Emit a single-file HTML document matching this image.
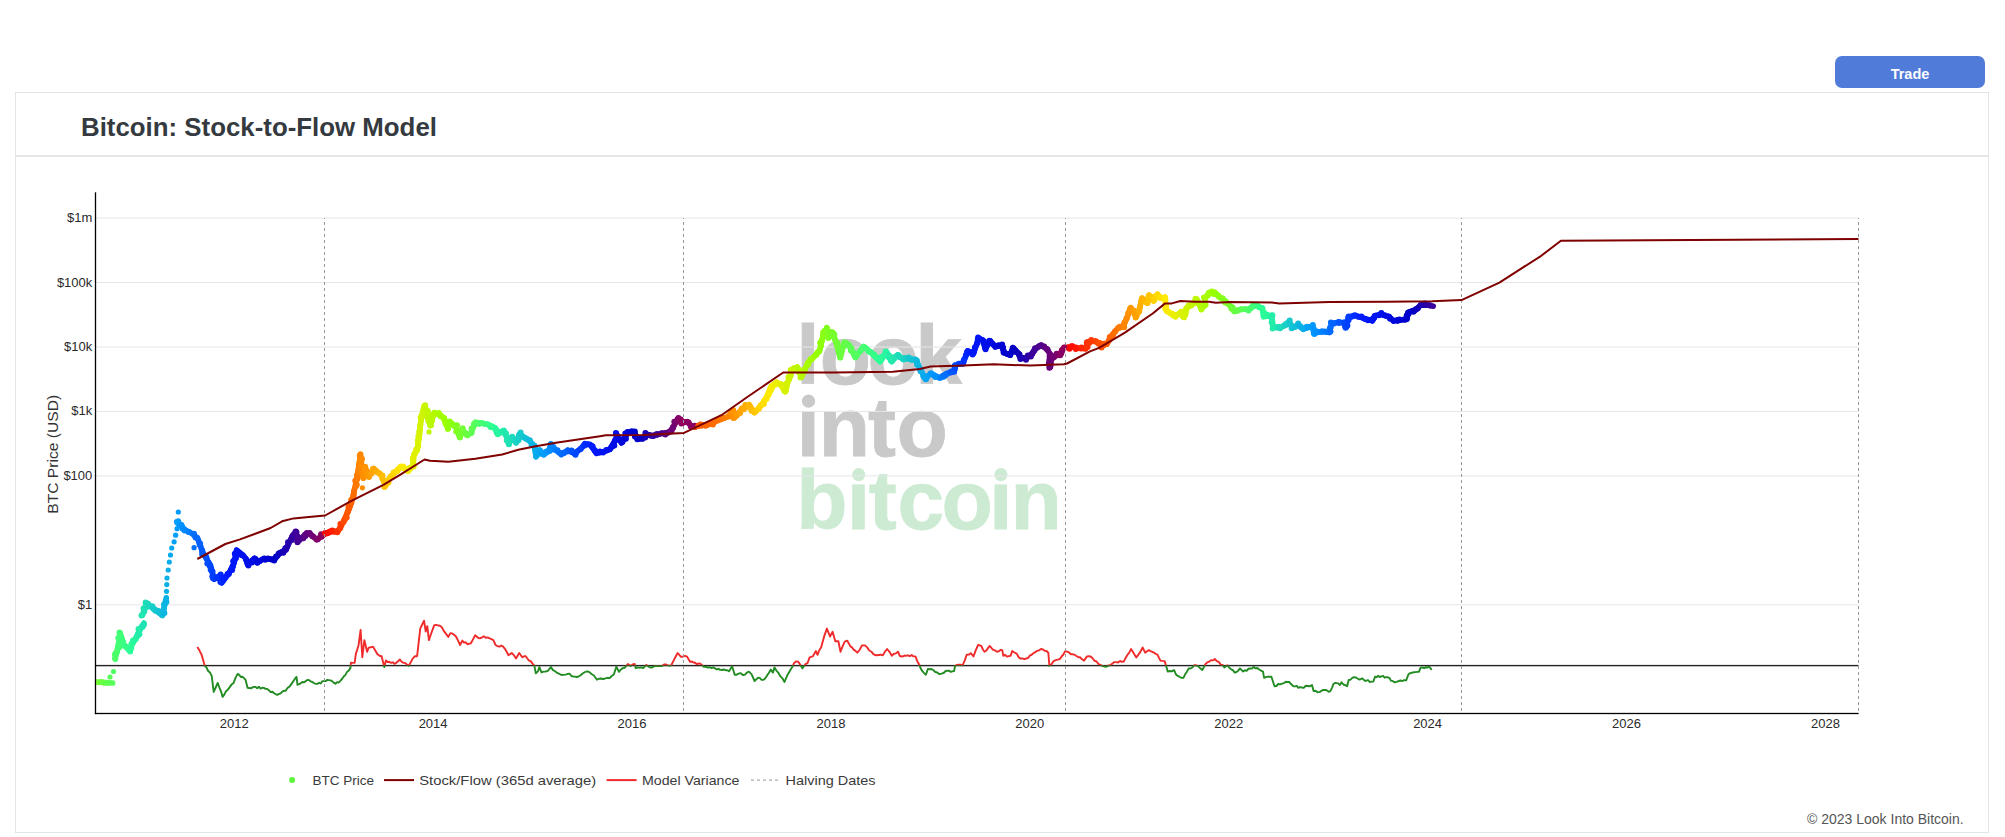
<!DOCTYPE html>
<html><head><meta charset="utf-8"><title>Bitcoin: Stock-to-Flow Model</title>
<style>
html,body{margin:0;padding:0;background:#fff;width:2005px;height:837px;overflow:hidden;}
body{position:relative;font-family:"Liberation Sans",sans-serif;}
.btn{position:absolute;left:1835px;top:56px;width:150px;height:32px;background:#517bd9;border-radius:7px;color:#fff;font-weight:bold;font-size:14.5px;line-height:36px;text-align:center;}
.card{position:absolute;left:15px;top:92px;width:1972px;height:739px;border:1px solid #e2e4e5;}
.hdr{position:absolute;left:0;top:0;width:1972px;height:62px;border-bottom:2px solid #e4e6e7;}
.title{position:absolute;left:64.7px;top:18.5px;font-size:26.5px;font-weight:bold;color:#343a40;white-space:nowrap;transform-origin:0 0;transform:scaleX(0.975);}
.copy{position:absolute;left:1807px;top:811px;font-size:14px;color:#555;white-space:nowrap;}
svg{position:absolute;left:0;top:0;}
</style></head><body>
<div class="btn">Trade</div>
<div class="card"><div class="hdr"><div class="title">Bitcoin: Stock-to-Flow Model</div></div></div>
<svg id="chart" width="2005" height="837" viewBox="0 0 2005 837">
<defs>
<clipPath id="above"><rect x="95" y="180" width="1765" height="485.6"/></clipPath>
<clipPath id="plot"><rect x="96.4" y="180" width="1762" height="532"/></clipPath>
<clipPath id="below"><rect x="95" y="665.6" width="1765" height="60"/></clipPath>
</defs>
<g font-family="Liberation Sans, sans-serif" font-weight="bold" font-size="84.0"><g fill="#c9c9c9" stroke="#c9c9c9" stroke-width="0.8"><text x="796.13" y="383.9">l</text><text x="819.72" y="383.9">o</text><text x="867.42" y="383.9">o</text><text x="915.13" y="383.9">k</text></g><g fill="#c9c9c9" stroke="#c9c9c9" stroke-width="0.8"><text x="796.45" y="455.8">&#x131;</text><text x="818.66" y="455.8">n</text><text x="867.97" y="455.8">t</text><text x="896.42" y="455.8">o</text></g><circle cx="808.5" cy="401.2" r="6.6" fill="#c9c9c9"/><g fill="#cdebd3" stroke="#cdebd3" stroke-width="0.8"><text x="796.36" y="529">b</text><text x="846.85" y="529">&#x131;</text><text x="868.87" y="529">t</text><text x="897.52" y="529">c</text><text x="941.42" y="529">o</text><text x="989.05" y="529">&#x131;</text><text x="1010.46" y="529">n</text></g><circle cx="858.7" cy="474.6" r="6.6" fill="#cdebd3"/><circle cx="1000.9" cy="474.6" r="6.6" fill="#cdebd3"/></g>
<rect x="96" y="217.60" width="1763" height="1" fill="#e6e6e6"/><rect x="96" y="282.05" width="1763" height="1" fill="#e6e6e6"/><rect x="96" y="346.50" width="1763" height="1" fill="#e6e6e6"/><rect x="96" y="410.95" width="1763" height="1" fill="#e6e6e6"/><rect x="96" y="475.40" width="1763" height="1" fill="#e6e6e6"/><rect x="96" y="604.30" width="1763" height="1" fill="#e6e6e6"/>
<rect x="96" y="217.3" width="1763" height="1.6" fill="#ececec" opacity="0"/>
<rect x="95.5" y="664.9" width="1763" height="1.4" fill="#222"/>
<g fill="none" stroke-width="1.9" stroke-linejoin="round">
<path d="M197.3 647 L199.5 650.6 L201.7 655 L204.7 665.5 L206.4 667.4 L208.2 671 L209.9 672.4 L211.7 675.9 L213.7 691.9 L215.7 687.5 L217.7 682.9 L219.3 687.3 L221 691.3 L222.6 696.9 L224.3 694.6 L225.9 691.3 L227.6 689.9 L229.6 687.4 L231.6 684.4 L233.6 682.9 L235.6 677.6 L237.6 673.9 L239.2 674.9 L240.8 677 L242.4 676.7 L244 678.1 L245.6 679.9 L247.6 687.9 L249.2 688 L250.8 688.4 L252.4 687.5 L254 686.9 L255.6 686.9 L257.2 688.2 L258.9 686.7 L260.6 688.6 L262.2 687.8 L263.9 687.9 L265.5 688.9 L267.2 689 L268.9 690.2 L270.6 692.1 L272.4 691.7 L274.1 693.3 L275.8 694.3 L277.5 694.9 L279.1 693.8 L280.7 693.4 L282.3 691.6 L283.9 690.8 L285.5 690.9 L287.5 688 L289.5 686.6 L291.5 683.9 L293.2 681.4 L294.8 678.9 L296.5 676.9 L297.5 684.9 L299.1 684.2 L300.8 683.1 L302.4 682 L304.1 682.2 L305.8 681.1 L307.4 679.9 L309.1 680.1 L310.7 681.4 L312.4 682 L314.1 683.3 L315.7 683.7 L317.4 683.9 L319.1 682.8 L320.7 683.5 L322.4 681.1 L324.1 681.1 L325.7 681.1 L327.4 679.9 L330 680.4 L331.8 680.8 L333.6 682.6 L335.4 683.7 L337 682.2 L338.6 682.6 L340.3 680.9 L342 679 L343.7 676.5 L345.3 675.1 L347 671.9 L348.7 670.6 L350.4 668.1 L351 662.7 L352.9 662.9 L354.7 662.7 L355.8 654.1 L358.5 645.5 L360.6 629.9 L362.3 657.3 L364.4 640.1 L367.1 651.9 L368.7 647.6 L370.9 647.3 L373 646.6 L375.1 650.3 L377.3 654.1 L379.5 655.8 L381.6 656.2 L384.3 667 L385.9 660.5 L387.6 662 L389.3 661.8 L391.1 662.8 L392.8 662.3 L394.5 663.8 L396.3 662.8 L398.1 661.2 L399.9 659.5 L401.6 661.8 L403.3 662.7 L405.1 662.9 L406.8 664.4 L408.5 665.9 L410.6 662.5 L412.8 658.4 L415 656.3 L417.1 656.2 L420.3 628.3 L422.2 624.5 L424.1 620.8 L425.7 631.5 L427.3 626.1 L428.9 640.1 L431.1 633.7 L434.3 625.1 L436.2 625 L438.1 625.4 L439.9 625.8 L441.8 627.2 L443.5 630.4 L445.1 632.6 L448.3 636.9 L450.4 633.1 L452.2 633.4 L454 634.7 L455.8 636.3 L458 640.4 L460.1 645 L462.3 640.6 L464.1 642.6 L465.8 642.3 L467.6 644.4 L469.2 643.7 L470.9 643.3 L473 639.4 L475.2 635.3 L478.4 638 L480.2 638.2 L482 637.5 L483.8 636.3 L485.7 637.8 L487.6 637.4 L489.6 638.4 L491.5 639.1 L493.4 640.1 L495.6 645 L497.5 646.2 L499.4 646.7 L501.2 645.5 L503.1 646.6 L504.9 648.8 L506.7 651.8 L508.5 655.2 L511.7 653 L513.9 655.2 L516 658.4 L517.6 655.7 L519.2 653 L520.9 655.3 L522.5 657.3 L524.1 656.3 L525.7 656.2 L528.9 660.5 L530.7 661.1 L532.5 663.6 L534.3 665.4 L535.8 673.4 L537.9 671.3 L539.4 667.1 L541.5 672.4 L543.6 671.6 L545.7 671.5 L547.8 670.8 L550.9 667.1 L553 670.1 L555.1 671.3 L557.2 672.9 L559.3 673.8 L561.4 675 L563.5 674.9 L565.6 674.6 L567.7 673.9 L569.5 673.7 L571.4 676 L573.2 676.5 L575 676.6 L576.8 677 L578.5 676.5 L580.3 675.5 L582 674.1 L583.8 672.8 L585.5 671.8 L587.6 671.3 L589.7 672.4 L591.8 674.2 L593.9 675.5 L597 679.7 L599.1 678.7 L601.2 678.5 L603.3 679.2 L605.4 678.3 L607.5 677.8 L609.6 678.1 L611.7 676 L613.8 674.5 L616.4 666.6 L619 671.8 L620.9 669.5 L622.9 668.1 L624.8 667.7 L627.9 664 L630.5 666.1 L632.6 664.4 L634.7 664 L635.8 668.2 L637.6 667.4 L639.5 667.9 L641.3 667.3 L643.1 668.2 L646.3 665 L649.4 667.1 L651.2 667.7 L653 667 L654.8 666 L656.6 666 L658.4 666.1 L660.2 666 L662 666.1 L664.1 664.5 L666.2 664.5 L667.9 665.4 L669.7 665.8 L671.4 665 L674.5 658.8 L676.1 655.8 L677.7 653 L680.8 656.7 L682.9 656.7 L685 655.9 L687.1 656.7 L690.2 661.9 L691.9 661.5 L693.5 662.5 L695.2 662.8 L696.8 664.3 L698.5 663.4 L700.1 663.6 L701.8 665 L703.9 666.8 L705.9 666.9 L708 667.7 L709.8 667.2 L711.5 668.1 L713.2 667.3 L715 668.4 L716.8 669.5 L718.5 668.7 L720.2 669.9 L722 670 L723.8 669.5 L725.5 670.2 L727.2 670.2 L729 671.3 L732.1 666.3 L734.7 674.7 L736.6 674.7 L738.6 673.7 L740.5 673.1 L743.1 675.2 L745 674.6 L747 672.5 L748.9 671.6 L751.5 674.2 L754.6 681 L757.8 677.8 L759.7 677.9 L761.6 679.8 L763.5 679.9 L765.3 678.3 L767.1 675.4 L769 672.7 L770.8 669.5 L772.9 672.6 L774.5 667.4 L776.4 670.6 L778.2 672.6 L780.3 676.2 L782.4 678.3 L784.5 682 L787.6 674.7 L789.3 671.9 L791.1 668.8 L792.8 666.3 L793.9 663.2 L796 661.5 L798.1 661.6 L800.7 665.3 L802.3 668.4 L805.4 664.2 L807.5 663.2 L809.6 657.4 L812.7 656.4 L815.9 651.1 L817.5 654.8 L819.3 650.2 L821.1 647.5 L824.3 635.9 L826.9 628.6 L830 636.5 L832.6 631.8 L835.3 641.2 L838.4 641.2 L840.5 651.7 L842.6 646.3 L844.7 641.7 L847.3 640.7 L850.4 646.4 L852 647.3 L853.6 649.6 L855.2 650.6 L857.3 652.7 L859.6 650 L862 645.4 L865.1 645.4 L867.2 647.4 L869.3 650.5 L871.4 651.7 L873.1 653.9 L874.9 655 L876.6 655.3 L878.7 655 L880.8 654.7 L882.9 655.3 L885 651.6 L887.1 649 L889.5 651.8 L891.8 655.8 L893.9 653.8 L896 653.3 L898.1 651.7 L899.7 655.8 L901.4 656.5 L903 656.3 L904.7 655.5 L906.3 655.7 L908 655.3 L909.9 656.2 L911.7 655 L913.5 656.4 L915.4 656.4 L917.5 661.7 L919.6 665.3 L920.6 668.4 L922.4 671.1 L924.1 673.1 L925.9 674.7 L927.9 668.9 L929.7 669.2 L931.4 669 L933.2 670 L935.3 672 L937.3 672.5 L939.4 674.2 L941.5 673.7 L943.6 673 L945.7 671 L947.4 670.8 L949.1 670.8 L950.7 671.9 L952.4 671.4 L954.1 671 L955.1 665.8 L957 665 L958.8 664.8 L960.6 664.7 L962.5 665.3 L964.6 660.9 L966.7 654.8 L968.8 654.6 L970.8 653.2 L973.5 656.4 L975.9 649.9 L978.2 644.8 L981.3 645.9 L982.9 649.5 L984.5 651.7 L986.2 650.7 L988 648.1 L989.7 645.9 L992.8 649.6 L994.9 650.4 L997 651.7 L998.8 651.3 L1000.5 649.9 L1002.3 650.1 L1003.3 655.8 L1005.1 654.8 L1007 656.7 L1008.8 656.1 L1010.6 655.8 L1012.2 651.1 L1014.5 652.5 L1016.9 653.8 L1018.5 657 L1020.1 658.5 L1022.2 658.4 L1024.3 659.2 L1026.4 658.5 L1028.1 657.9 L1029.9 655.5 L1031.6 654.8 L1033.5 653.1 L1035.4 652.1 L1037.2 650.8 L1039.1 650.3 L1041 649 L1042.8 649.4 L1044.7 650.7 L1046.5 651 L1048.3 652.7 L1049.4 665.8 L1051.5 664.3 L1053.6 661.1 L1055.7 660.1 L1057.8 659.6 L1059.9 659 L1061.6 656.5 L1063.4 654.5 L1065.1 651.1 L1067.2 651.7 L1069.3 652.7 L1071 654.2 L1072.8 654.1 L1074.5 654.8 L1076.4 656 L1078.3 657.2 L1080.2 657.3 L1082.1 659.3 L1084 660.6 L1087.1 656.4 L1088.8 656.3 L1090.6 656.5 L1092.3 658 L1094.4 660.7 L1096.5 661.5 L1098.6 664.2 L1100.4 664.8 L1102.3 666 L1104.2 666.3 L1106 666.8 L1108 665.7 L1110.1 665.3 L1112.2 663.7 L1114.3 662.1 L1116.2 662.1 L1118.1 662.5 L1120 661 L1121.9 661.8 L1123.8 661.6 L1125.6 657.9 L1127.4 654.9 L1129.3 652.7 L1131.1 649 L1132.8 651.8 L1134.6 654.7 L1136.3 657.4 L1138.4 654.6 L1140.5 651.6 L1142.6 647.5 L1145.2 652.7 L1147.1 651.3 L1148.9 650.1 L1150.6 651.2 L1152.2 651.8 L1153.9 652.6 L1155.5 653.8 L1157.2 654.3 L1158.8 657.4 L1160.4 660.6 L1162.5 660.9 L1164.6 661.1 L1166.1 665.8 L1167.7 671.6 L1169.8 671 L1171.9 671.4 L1174 670 L1176.1 674.7 L1177.9 675.9 L1179.8 677 L1181.6 677.9 L1183.4 677.8 L1185.2 674.2 L1186.9 671.7 L1188.7 668.4 L1190.5 668.5 L1192.3 667.5 L1194.2 665.3 L1196 665.3 L1198.1 666.1 L1200.2 668.3 L1202.3 670 L1205.4 664.2 L1207.3 662.3 L1209.2 661.6 L1211 660.2 L1212.9 660.4 L1214.8 659 L1216.9 661.1 L1219 662.1 L1220.8 664.7 L1222.5 664.9 L1224.3 667.4 L1227.4 665.3 L1229.2 667.6 L1231.1 669.3 L1232.9 670.1 L1234.7 672.6 L1236.5 672 L1238.2 670.7 L1240 668.4 L1243.1 671.6 L1244.8 670.2 L1246.6 670.9 L1248.3 669 L1250.1 668.4 L1251.8 668.6 L1253.6 666.8 L1255.5 668.4 L1257.4 668 L1259.2 669.5 L1261.1 670.7 L1263 671.6 L1264.1 677.8 L1265.9 677.2 L1267.8 676.7 L1269.6 676.7 L1271.4 676.8 L1274.5 686.2 L1276.4 686 L1278.3 684 L1280.2 684.4 L1282.1 683.6 L1284 683.1 L1285.7 681.8 L1287.5 682 L1289.2 682 L1291.3 684.3 L1293.4 686.2 L1295.1 686.4 L1296.7 685.8 L1298.3 687.8 L1300 687.1 L1301.9 687.5 L1303.8 687.7 L1305.8 685.8 L1307.7 686 L1309.6 686.3 L1312 685.1 L1313.6 691.1 L1315.6 690.8 L1317.6 692.3 L1319.9 691.9 L1322.3 690.3 L1323.9 690 L1325.5 689.9 L1327.1 690.6 L1328.7 691.8 L1330.3 691.1 L1331.9 688.1 L1333.5 683.9 L1335.1 683 L1336.7 683.1 L1338.3 683.4 L1339.9 685.1 L1341.5 682.3 L1343.4 684.5 L1345.2 685.1 L1347.1 686.3 L1348.7 679.9 L1350.5 679.7 L1352.3 677.9 L1354.1 677.2 L1355.9 677.5 L1359.1 679.5 L1360.7 679.3 L1362.3 678.3 L1364.6 680.7 L1366.4 680.7 L1368.1 680.2 L1369.9 682.1 L1371.6 681.6 L1373.4 681.5 L1375 676.7 L1376.6 677.2 L1378.2 675.7 L1379.8 677.1 L1381.4 676.3 L1383 675.8 L1384.6 677.7 L1386.2 677.2 L1387.8 677.3 L1389.4 677.9 L1391 680.7 L1392.9 681.2 L1394.7 682.4 L1396.6 681.9 L1398.5 681.1 L1400.4 680.5 L1402.3 681 L1404.2 680.1 L1406.1 680.3 L1408.5 674.3 L1410.2 673.1 L1412 672.8 L1413.7 672.2 L1415.4 672.1 L1417.2 671.9 L1418.9 671.9 L1420.5 667.9 L1422.3 667.4 L1424.1 668.2 L1425.9 667.2 L1427.7 667.5 L1429.3 666.7 L1431.7 669.9" stroke="#ef2b2b" clip-path="url(#above)"/>
<path d="M197.3 647 L199.5 650.6 L201.7 655 L204.7 665.5 L206.4 667.4 L208.2 671 L209.9 672.4 L211.7 675.9 L213.7 691.9 L215.7 687.5 L217.7 682.9 L219.3 687.3 L221 691.3 L222.6 696.9 L224.3 694.6 L225.9 691.3 L227.6 689.9 L229.6 687.4 L231.6 684.4 L233.6 682.9 L235.6 677.6 L237.6 673.9 L239.2 674.9 L240.8 677 L242.4 676.7 L244 678.1 L245.6 679.9 L247.6 687.9 L249.2 688 L250.8 688.4 L252.4 687.5 L254 686.9 L255.6 686.9 L257.2 688.2 L258.9 686.7 L260.6 688.6 L262.2 687.8 L263.9 687.9 L265.5 688.9 L267.2 689 L268.9 690.2 L270.6 692.1 L272.4 691.7 L274.1 693.3 L275.8 694.3 L277.5 694.9 L279.1 693.8 L280.7 693.4 L282.3 691.6 L283.9 690.8 L285.5 690.9 L287.5 688 L289.5 686.6 L291.5 683.9 L293.2 681.4 L294.8 678.9 L296.5 676.9 L297.5 684.9 L299.1 684.2 L300.8 683.1 L302.4 682 L304.1 682.2 L305.8 681.1 L307.4 679.9 L309.1 680.1 L310.7 681.4 L312.4 682 L314.1 683.3 L315.7 683.7 L317.4 683.9 L319.1 682.8 L320.7 683.5 L322.4 681.1 L324.1 681.1 L325.7 681.1 L327.4 679.9 L330 680.4 L331.8 680.8 L333.6 682.6 L335.4 683.7 L337 682.2 L338.6 682.6 L340.3 680.9 L342 679 L343.7 676.5 L345.3 675.1 L347 671.9 L348.7 670.6 L350.4 668.1 L351 662.7 L352.9 662.9 L354.7 662.7 L355.8 654.1 L358.5 645.5 L360.6 629.9 L362.3 657.3 L364.4 640.1 L367.1 651.9 L368.7 647.6 L370.9 647.3 L373 646.6 L375.1 650.3 L377.3 654.1 L379.5 655.8 L381.6 656.2 L384.3 667 L385.9 660.5 L387.6 662 L389.3 661.8 L391.1 662.8 L392.8 662.3 L394.5 663.8 L396.3 662.8 L398.1 661.2 L399.9 659.5 L401.6 661.8 L403.3 662.7 L405.1 662.9 L406.8 664.4 L408.5 665.9 L410.6 662.5 L412.8 658.4 L415 656.3 L417.1 656.2 L420.3 628.3 L422.2 624.5 L424.1 620.8 L425.7 631.5 L427.3 626.1 L428.9 640.1 L431.1 633.7 L434.3 625.1 L436.2 625 L438.1 625.4 L439.9 625.8 L441.8 627.2 L443.5 630.4 L445.1 632.6 L448.3 636.9 L450.4 633.1 L452.2 633.4 L454 634.7 L455.8 636.3 L458 640.4 L460.1 645 L462.3 640.6 L464.1 642.6 L465.8 642.3 L467.6 644.4 L469.2 643.7 L470.9 643.3 L473 639.4 L475.2 635.3 L478.4 638 L480.2 638.2 L482 637.5 L483.8 636.3 L485.7 637.8 L487.6 637.4 L489.6 638.4 L491.5 639.1 L493.4 640.1 L495.6 645 L497.5 646.2 L499.4 646.7 L501.2 645.5 L503.1 646.6 L504.9 648.8 L506.7 651.8 L508.5 655.2 L511.7 653 L513.9 655.2 L516 658.4 L517.6 655.7 L519.2 653 L520.9 655.3 L522.5 657.3 L524.1 656.3 L525.7 656.2 L528.9 660.5 L530.7 661.1 L532.5 663.6 L534.3 665.4 L535.8 673.4 L537.9 671.3 L539.4 667.1 L541.5 672.4 L543.6 671.6 L545.7 671.5 L547.8 670.8 L550.9 667.1 L553 670.1 L555.1 671.3 L557.2 672.9 L559.3 673.8 L561.4 675 L563.5 674.9 L565.6 674.6 L567.7 673.9 L569.5 673.7 L571.4 676 L573.2 676.5 L575 676.6 L576.8 677 L578.5 676.5 L580.3 675.5 L582 674.1 L583.8 672.8 L585.5 671.8 L587.6 671.3 L589.7 672.4 L591.8 674.2 L593.9 675.5 L597 679.7 L599.1 678.7 L601.2 678.5 L603.3 679.2 L605.4 678.3 L607.5 677.8 L609.6 678.1 L611.7 676 L613.8 674.5 L616.4 666.6 L619 671.8 L620.9 669.5 L622.9 668.1 L624.8 667.7 L627.9 664 L630.5 666.1 L632.6 664.4 L634.7 664 L635.8 668.2 L637.6 667.4 L639.5 667.9 L641.3 667.3 L643.1 668.2 L646.3 665 L649.4 667.1 L651.2 667.7 L653 667 L654.8 666 L656.6 666 L658.4 666.1 L660.2 666 L662 666.1 L664.1 664.5 L666.2 664.5 L667.9 665.4 L669.7 665.8 L671.4 665 L674.5 658.8 L676.1 655.8 L677.7 653 L680.8 656.7 L682.9 656.7 L685 655.9 L687.1 656.7 L690.2 661.9 L691.9 661.5 L693.5 662.5 L695.2 662.8 L696.8 664.3 L698.5 663.4 L700.1 663.6 L701.8 665 L703.9 666.8 L705.9 666.9 L708 667.7 L709.8 667.2 L711.5 668.1 L713.2 667.3 L715 668.4 L716.8 669.5 L718.5 668.7 L720.2 669.9 L722 670 L723.8 669.5 L725.5 670.2 L727.2 670.2 L729 671.3 L732.1 666.3 L734.7 674.7 L736.6 674.7 L738.6 673.7 L740.5 673.1 L743.1 675.2 L745 674.6 L747 672.5 L748.9 671.6 L751.5 674.2 L754.6 681 L757.8 677.8 L759.7 677.9 L761.6 679.8 L763.5 679.9 L765.3 678.3 L767.1 675.4 L769 672.7 L770.8 669.5 L772.9 672.6 L774.5 667.4 L776.4 670.6 L778.2 672.6 L780.3 676.2 L782.4 678.3 L784.5 682 L787.6 674.7 L789.3 671.9 L791.1 668.8 L792.8 666.3 L793.9 663.2 L796 661.5 L798.1 661.6 L800.7 665.3 L802.3 668.4 L805.4 664.2 L807.5 663.2 L809.6 657.4 L812.7 656.4 L815.9 651.1 L817.5 654.8 L819.3 650.2 L821.1 647.5 L824.3 635.9 L826.9 628.6 L830 636.5 L832.6 631.8 L835.3 641.2 L838.4 641.2 L840.5 651.7 L842.6 646.3 L844.7 641.7 L847.3 640.7 L850.4 646.4 L852 647.3 L853.6 649.6 L855.2 650.6 L857.3 652.7 L859.6 650 L862 645.4 L865.1 645.4 L867.2 647.4 L869.3 650.5 L871.4 651.7 L873.1 653.9 L874.9 655 L876.6 655.3 L878.7 655 L880.8 654.7 L882.9 655.3 L885 651.6 L887.1 649 L889.5 651.8 L891.8 655.8 L893.9 653.8 L896 653.3 L898.1 651.7 L899.7 655.8 L901.4 656.5 L903 656.3 L904.7 655.5 L906.3 655.7 L908 655.3 L909.9 656.2 L911.7 655 L913.5 656.4 L915.4 656.4 L917.5 661.7 L919.6 665.3 L920.6 668.4 L922.4 671.1 L924.1 673.1 L925.9 674.7 L927.9 668.9 L929.7 669.2 L931.4 669 L933.2 670 L935.3 672 L937.3 672.5 L939.4 674.2 L941.5 673.7 L943.6 673 L945.7 671 L947.4 670.8 L949.1 670.8 L950.7 671.9 L952.4 671.4 L954.1 671 L955.1 665.8 L957 665 L958.8 664.8 L960.6 664.7 L962.5 665.3 L964.6 660.9 L966.7 654.8 L968.8 654.6 L970.8 653.2 L973.5 656.4 L975.9 649.9 L978.2 644.8 L981.3 645.9 L982.9 649.5 L984.5 651.7 L986.2 650.7 L988 648.1 L989.7 645.9 L992.8 649.6 L994.9 650.4 L997 651.7 L998.8 651.3 L1000.5 649.9 L1002.3 650.1 L1003.3 655.8 L1005.1 654.8 L1007 656.7 L1008.8 656.1 L1010.6 655.8 L1012.2 651.1 L1014.5 652.5 L1016.9 653.8 L1018.5 657 L1020.1 658.5 L1022.2 658.4 L1024.3 659.2 L1026.4 658.5 L1028.1 657.9 L1029.9 655.5 L1031.6 654.8 L1033.5 653.1 L1035.4 652.1 L1037.2 650.8 L1039.1 650.3 L1041 649 L1042.8 649.4 L1044.7 650.7 L1046.5 651 L1048.3 652.7 L1049.4 665.8 L1051.5 664.3 L1053.6 661.1 L1055.7 660.1 L1057.8 659.6 L1059.9 659 L1061.6 656.5 L1063.4 654.5 L1065.1 651.1 L1067.2 651.7 L1069.3 652.7 L1071 654.2 L1072.8 654.1 L1074.5 654.8 L1076.4 656 L1078.3 657.2 L1080.2 657.3 L1082.1 659.3 L1084 660.6 L1087.1 656.4 L1088.8 656.3 L1090.6 656.5 L1092.3 658 L1094.4 660.7 L1096.5 661.5 L1098.6 664.2 L1100.4 664.8 L1102.3 666 L1104.2 666.3 L1106 666.8 L1108 665.7 L1110.1 665.3 L1112.2 663.7 L1114.3 662.1 L1116.2 662.1 L1118.1 662.5 L1120 661 L1121.9 661.8 L1123.8 661.6 L1125.6 657.9 L1127.4 654.9 L1129.3 652.7 L1131.1 649 L1132.8 651.8 L1134.6 654.7 L1136.3 657.4 L1138.4 654.6 L1140.5 651.6 L1142.6 647.5 L1145.2 652.7 L1147.1 651.3 L1148.9 650.1 L1150.6 651.2 L1152.2 651.8 L1153.9 652.6 L1155.5 653.8 L1157.2 654.3 L1158.8 657.4 L1160.4 660.6 L1162.5 660.9 L1164.6 661.1 L1166.1 665.8 L1167.7 671.6 L1169.8 671 L1171.9 671.4 L1174 670 L1176.1 674.7 L1177.9 675.9 L1179.8 677 L1181.6 677.9 L1183.4 677.8 L1185.2 674.2 L1186.9 671.7 L1188.7 668.4 L1190.5 668.5 L1192.3 667.5 L1194.2 665.3 L1196 665.3 L1198.1 666.1 L1200.2 668.3 L1202.3 670 L1205.4 664.2 L1207.3 662.3 L1209.2 661.6 L1211 660.2 L1212.9 660.4 L1214.8 659 L1216.9 661.1 L1219 662.1 L1220.8 664.7 L1222.5 664.9 L1224.3 667.4 L1227.4 665.3 L1229.2 667.6 L1231.1 669.3 L1232.9 670.1 L1234.7 672.6 L1236.5 672 L1238.2 670.7 L1240 668.4 L1243.1 671.6 L1244.8 670.2 L1246.6 670.9 L1248.3 669 L1250.1 668.4 L1251.8 668.6 L1253.6 666.8 L1255.5 668.4 L1257.4 668 L1259.2 669.5 L1261.1 670.7 L1263 671.6 L1264.1 677.8 L1265.9 677.2 L1267.8 676.7 L1269.6 676.7 L1271.4 676.8 L1274.5 686.2 L1276.4 686 L1278.3 684 L1280.2 684.4 L1282.1 683.6 L1284 683.1 L1285.7 681.8 L1287.5 682 L1289.2 682 L1291.3 684.3 L1293.4 686.2 L1295.1 686.4 L1296.7 685.8 L1298.3 687.8 L1300 687.1 L1301.9 687.5 L1303.8 687.7 L1305.8 685.8 L1307.7 686 L1309.6 686.3 L1312 685.1 L1313.6 691.1 L1315.6 690.8 L1317.6 692.3 L1319.9 691.9 L1322.3 690.3 L1323.9 690 L1325.5 689.9 L1327.1 690.6 L1328.7 691.8 L1330.3 691.1 L1331.9 688.1 L1333.5 683.9 L1335.1 683 L1336.7 683.1 L1338.3 683.4 L1339.9 685.1 L1341.5 682.3 L1343.4 684.5 L1345.2 685.1 L1347.1 686.3 L1348.7 679.9 L1350.5 679.7 L1352.3 677.9 L1354.1 677.2 L1355.9 677.5 L1359.1 679.5 L1360.7 679.3 L1362.3 678.3 L1364.6 680.7 L1366.4 680.7 L1368.1 680.2 L1369.9 682.1 L1371.6 681.6 L1373.4 681.5 L1375 676.7 L1376.6 677.2 L1378.2 675.7 L1379.8 677.1 L1381.4 676.3 L1383 675.8 L1384.6 677.7 L1386.2 677.2 L1387.8 677.3 L1389.4 677.9 L1391 680.7 L1392.9 681.2 L1394.7 682.4 L1396.6 681.9 L1398.5 681.1 L1400.4 680.5 L1402.3 681 L1404.2 680.1 L1406.1 680.3 L1408.5 674.3 L1410.2 673.1 L1412 672.8 L1413.7 672.2 L1415.4 672.1 L1417.2 671.9 L1418.9 671.9 L1420.5 667.9 L1422.3 667.4 L1424.1 668.2 L1425.9 667.2 L1427.7 667.5 L1429.3 666.7 L1431.7 669.9" stroke="#228b22" clip-path="url(#below)"/>
</g>
<g stroke-width="5.6" stroke-linecap="round" clip-path="url(#plot)">
<line x1="96.3" y1="682" x2="100.2" y2="682.2" stroke="#72ff33"/><line x1="100.2" y1="682.2" x2="104" y2="682.5" stroke="#6aff3f"/><line x1="104" y1="682.5" x2="108.3" y2="682.8" stroke="#61ff4c"/><line x1="108.3" y1="682.8" x2="112.6" y2="683" stroke="#57ff59"/><line x1="115" y1="658" x2="116" y2="655" stroke="#4cff69"/><line x1="116" y1="655" x2="117" y2="652" stroke="#4aff6c"/><line x1="117" y1="652" x2="117.5" y2="648.9" stroke="#48ff6e"/><line x1="117.5" y1="648.9" x2="118.1" y2="645.8" stroke="#47ff70"/><line x1="118.1" y1="645.8" x2="118.7" y2="642.7" stroke="#46ff72"/><line x1="118.7" y1="642.7" x2="119.2" y2="639.6" stroke="#45ff73"/><line x1="119.2" y1="639.6" x2="119.8" y2="636.5" stroke="#43ff75"/><line x1="119.8" y1="636.5" x2="120.3" y2="633.4" stroke="#42ff77"/><line x1="120.3" y1="633.4" x2="121.2" y2="636.3" stroke="#41ff79"/><line x1="121.2" y1="636.3" x2="122.2" y2="639.2" stroke="#3fff7c"/><line x1="122.2" y1="639.2" x2="123.1" y2="642.1" stroke="#3dff7f"/><line x1="123.1" y1="642.1" x2="124" y2="645" stroke="#3bff82"/><line x1="124" y1="645" x2="126.5" y2="647.5" stroke="#37ff87"/><line x1="126.5" y1="647.5" x2="128.9" y2="650" stroke="#31ff8e"/><line x1="128.9" y1="650" x2="130.4" y2="647.3" stroke="#2dff95"/><line x1="130.4" y1="647.3" x2="132" y2="644.6" stroke="#2bfd98"/><line x1="132" y1="644.6" x2="133.6" y2="642" stroke="#2af99c"/><line x1="133.6" y1="642" x2="135.1" y2="639.3" stroke="#28f69f"/><line x1="135.1" y1="639.3" x2="136.7" y2="636.2" stroke="#27f3a2"/><line x1="136.7" y1="636.2" x2="138.2" y2="633.1" stroke="#25efa6"/><line x1="138.2" y1="633.1" x2="139.8" y2="630.1" stroke="#24eca9"/><line x1="139.8" y1="630.1" x2="141.4" y2="627" stroke="#22e9ad"/><line x1="141.4" y1="627" x2="144" y2="623" stroke="#21e4b1"/><line x1="142.6" y1="615" x2="143.6" y2="612" stroke="#20e3b2"/><line x1="143.6" y1="612" x2="144.6" y2="609.1" stroke="#1fe1b4"/><line x1="144.6" y1="609.1" x2="145.6" y2="606.2" stroke="#1edfb6"/><line x1="145.6" y1="606.2" x2="146.6" y2="603.2" stroke="#1eddb9"/><line x1="146.6" y1="603.2" x2="149.1" y2="605.2" stroke="#1cd9bc"/><line x1="149.1" y1="605.2" x2="151.5" y2="607.2" stroke="#1ad4c2"/><line x1="151.5" y1="607.2" x2="154" y2="609.2" stroke="#17cfc7"/><line x1="154" y1="609.2" x2="158.4" y2="611" stroke="#14c8ce"/><line x1="158.4" y1="611" x2="162.4" y2="615.4" stroke="#11bfd7"/><line x1="162.4" y1="615.4" x2="163.2" y2="611.9" stroke="#0ebadd"/><line x1="163.2" y1="611.9" x2="164" y2="608.4" stroke="#0eb8de"/><line x1="164" y1="608.4" x2="164.7" y2="604.9" stroke="#0db6e0"/><line x1="164.7" y1="604.9" x2="165.5" y2="601.4" stroke="#0cb5e2"/><line x1="165.5" y1="601.4" x2="166.3" y2="597.9" stroke="#0cb3e3"/><line x1="178.3" y1="521" x2="179" y2="523.9" stroke="#0098ff"/><line x1="179" y1="523.9" x2="182.2" y2="527" stroke="#0093ff"/><line x1="182.2" y1="527" x2="185.3" y2="530.1" stroke="#008bff"/><line x1="185.3" y1="530.1" x2="189.1" y2="532" stroke="#0082ff"/><line x1="189.1" y1="532" x2="192.8" y2="533.9" stroke="#0078ff"/><line x1="192.8" y1="533.9" x2="195.3" y2="536.4" stroke="#0070ff"/><line x1="195.3" y1="536.4" x2="197.8" y2="538.9" stroke="#0069ff"/><line x1="197.8" y1="538.9" x2="199.1" y2="542.4" stroke="#0064ff"/><line x1="199.1" y1="542.4" x2="200.4" y2="545.8" stroke="#0061ff"/><line x1="200.4" y1="545.8" x2="201.6" y2="549.2" stroke="#005eff"/><line x1="201.6" y1="549.2" x2="202.9" y2="552.7" stroke="#005aff"/><line x1="202.9" y1="552.7" x2="204.8" y2="555.9" stroke="#0056ff"/><line x1="204.8" y1="555.9" x2="206.7" y2="559" stroke="#0051ff"/><line x1="206.7" y1="559" x2="208.5" y2="562.1" stroke="#004cff"/><line x1="208.5" y1="562.1" x2="210.4" y2="565.3" stroke="#0048ff"/><line x1="210.4" y1="565.3" x2="211.3" y2="568.8" stroke="#0044ff"/><line x1="211.3" y1="568.8" x2="212.2" y2="572.2" stroke="#0041ff"/><line x1="212.2" y1="572.2" x2="213.2" y2="575.6" stroke="#003fff"/><line x1="213.2" y1="575.6" x2="214.1" y2="579.1" stroke="#003dff"/><line x1="214.1" y1="579.1" x2="217.2" y2="577.2" stroke="#0037ff"/><line x1="217.2" y1="577.2" x2="220.4" y2="575.3" stroke="#002fff"/><line x1="220.4" y1="575.3" x2="221.1" y2="579" stroke="#002aff"/><line x1="221.1" y1="579" x2="221.7" y2="582.8" stroke="#0028ff"/><line x1="221.7" y1="582.8" x2="223.6" y2="580.3" stroke="#0025ff"/><line x1="223.6" y1="580.3" x2="225.4" y2="577.8" stroke="#0020ff"/><line x1="225.4" y1="577.8" x2="227.3" y2="575.3" stroke="#001bff"/><line x1="227.3" y1="575.3" x2="229.2" y2="572.8" stroke="#0018fe"/><line x1="229.2" y1="572.8" x2="230.9" y2="569.5" stroke="#0018fc"/><line x1="230.9" y1="569.5" x2="232.5" y2="566.1" stroke="#0017fa"/><line x1="232.5" y1="566.1" x2="234.2" y2="562.8" stroke="#0016f8"/><line x1="234.2" y1="562.8" x2="234.8" y2="559.6" stroke="#0015f7"/><line x1="234.8" y1="559.6" x2="235.4" y2="556.5" stroke="#0015f6"/><line x1="235.4" y1="556.5" x2="236.1" y2="553.4" stroke="#0015f5"/><line x1="236.1" y1="553.4" x2="236.7" y2="550.2" stroke="#0014f5"/><line x1="236.7" y1="550.2" x2="239.8" y2="552.7" stroke="#0013f3"/><line x1="239.8" y1="552.7" x2="243" y2="555.2" stroke="#0012ef"/><line x1="243" y1="555.2" x2="245.7" y2="558.5" stroke="#0010ec"/><line x1="245.7" y1="558.5" x2="246.6" y2="561.4" stroke="#000fea"/><line x1="246.6" y1="561.4" x2="247.6" y2="564.3" stroke="#000fe9"/><line x1="247.6" y1="564.3" x2="250.9" y2="561.4" stroke="#000ee6"/><line x1="250.9" y1="561.4" x2="254.3" y2="558.5" stroke="#000ce2"/><line x1="254.3" y1="558.5" x2="257.2" y2="562.4" stroke="#000adf"/><line x1="257.2" y1="562.4" x2="260.5" y2="560.5" stroke="#0009db"/><line x1="260.5" y1="560.5" x2="263.9" y2="558.5" stroke="#0007d7"/><line x1="263.9" y1="558.5" x2="267.4" y2="558.8" stroke="#0005d4"/><line x1="267.4" y1="558.8" x2="270.9" y2="559.2" stroke="#0003d0"/><line x1="270.9" y1="559.2" x2="274.4" y2="559.5" stroke="#0002cc"/><line x1="274.4" y1="559.5" x2="277.3" y2="556.1" stroke="#0000c8"/><line x1="277.3" y1="556.1" x2="280.2" y2="552.8" stroke="#0900c1"/><line x1="280.2" y1="552.8" x2="283" y2="551.3" stroke="#1200bb"/><line x1="283" y1="551.3" x2="285.9" y2="549.9" stroke="#1b00b4"/><line x1="285.9" y1="549.9" x2="287.4" y2="546.6" stroke="#2100b0"/><line x1="287.4" y1="546.6" x2="288.8" y2="543.3" stroke="#2600ac"/><line x1="288.8" y1="543.3" x2="290.7" y2="539.5" stroke="#2b00a8"/><line x1="290.7" y1="539.5" x2="292.6" y2="535.6" stroke="#3100a4"/><line x1="292.6" y1="535.6" x2="296.4" y2="531.8" stroke="#3a009e"/><line x1="296.4" y1="531.8" x2="296.7" y2="535.3" stroke="#400099"/><line x1="296.7" y1="535.3" x2="297.1" y2="538.8" stroke="#410098"/><line x1="297.1" y1="538.8" x2="297.4" y2="542.3" stroke="#420098"/><line x1="297.4" y1="542.3" x2="299.9" y2="539.7" stroke="#470094"/><line x1="299.9" y1="539.7" x2="302.5" y2="537.2" stroke="#4e008f"/><line x1="302.5" y1="537.2" x2="305" y2="534.6" stroke="#560089"/><line x1="305" y1="534.6" x2="309.8" y2="533.7" stroke="#610081"/><line x1="309.8" y1="533.7" x2="313.1" y2="536.5" stroke="#6e0077"/><line x1="313.1" y1="536.5" x2="316.5" y2="539.4" stroke="#780070"/><line x1="316.5" y1="539.4" x2="320.3" y2="537" stroke="#830068"/><line x1="320.3" y1="537" x2="324.1" y2="534.6" stroke="#8f005f"/><line x1="324.1" y1="534.6" x2="327" y2="533" stroke="#ff0400"/><line x1="327" y1="533" x2="329.9" y2="531.4" stroke="#ff0f00"/><line x1="329.9" y1="531.4" x2="333.7" y2="531.8" stroke="#ff1b00"/><line x1="333.7" y1="531.8" x2="337.5" y2="532.2" stroke="#ff2a00"/><line x1="337.5" y1="532.2" x2="339.4" y2="528.9" stroke="#ff3400"/><line x1="339.4" y1="528.9" x2="341.3" y2="525.5" stroke="#ff3b00"/><line x1="341.3" y1="525.5" x2="343.2" y2="522.2" stroke="#ff4200"/><line x1="343.2" y1="522.2" x2="344.5" y2="519.1" stroke="#ff4800"/><line x1="344.5" y1="519.1" x2="345.9" y2="516.1" stroke="#ff4d00"/><line x1="345.9" y1="516.1" x2="347.2" y2="513" stroke="#ff5200"/><line x1="347.2" y1="513" x2="348.6" y2="510" stroke="#ff5700"/><line x1="348.6" y1="510" x2="349.9" y2="506.9" stroke="#ff5c00"/><line x1="349.9" y1="506.9" x2="350.9" y2="503.7" stroke="#ff6000"/><line x1="350.9" y1="503.7" x2="351.8" y2="500.6" stroke="#ff6400"/><line x1="351.8" y1="500.6" x2="352.8" y2="497.4" stroke="#ff6700"/><line x1="352.8" y1="497.4" x2="353.5" y2="494" stroke="#ff6b00"/><line x1="353.5" y1="494" x2="354.2" y2="490.7" stroke="#ff6d00"/><line x1="354.2" y1="490.7" x2="355" y2="487.4" stroke="#ff7000"/><line x1="355" y1="487.4" x2="355.7" y2="484" stroke="#ff7300"/><line x1="355.7" y1="484" x2="356.3" y2="480.9" stroke="#ff7600"/><line x1="356.3" y1="480.9" x2="356.8" y2="477.9" stroke="#ff7800"/><line x1="356.8" y1="477.9" x2="357.4" y2="474.8" stroke="#ff7a00"/><line x1="357.4" y1="474.8" x2="357.9" y2="471.8" stroke="#ff7d00"/><line x1="357.9" y1="471.8" x2="358.5" y2="468.7" stroke="#ff7f00"/><line x1="358.5" y1="468.7" x2="359" y2="465.1" stroke="#ff8100"/><line x1="359" y1="465.1" x2="359.5" y2="461.5" stroke="#ff8300"/><line x1="359.5" y1="461.5" x2="360" y2="457.9" stroke="#ff8500"/><line x1="360" y1="457.9" x2="360.5" y2="454.3" stroke="#ff8700"/><line x1="360.5" y1="454.3" x2="360.8" y2="457.4" stroke="#ff8800"/><line x1="360.8" y1="457.4" x2="361.1" y2="460.6" stroke="#ff8900"/><line x1="361.1" y1="460.6" x2="361.4" y2="463.7" stroke="#ff8a00"/><line x1="361.4" y1="463.7" x2="361.7" y2="466.9" stroke="#ff8a00"/><line x1="361.7" y1="466.9" x2="362" y2="470" stroke="#ff8b00"/><line x1="362" y1="470" x2="362.6" y2="474.1" stroke="#ff8c00"/><line x1="362.6" y1="474.1" x2="363.3" y2="478.2" stroke="#ff8e00"/><line x1="363.3" y1="478.2" x2="363.9" y2="474.4" stroke="#ff8f00"/><line x1="363.9" y1="474.4" x2="364.6" y2="470.6" stroke="#ff9100"/><line x1="364.6" y1="470.6" x2="365.2" y2="466.8" stroke="#ff9200"/><line x1="365.2" y1="466.8" x2="366.2" y2="470" stroke="#ff9400"/><line x1="366.2" y1="470" x2="367.1" y2="473.1" stroke="#ff9700"/><line x1="367.1" y1="473.1" x2="368.1" y2="476.3" stroke="#ff9900"/><line x1="368.1" y1="476.3" x2="370" y2="473.8" stroke="#ff9c00"/><line x1="370" y1="473.8" x2="371.9" y2="471.2" stroke="#ffa100"/><line x1="371.9" y1="471.2" x2="373.8" y2="468.7" stroke="#ffa500"/><line x1="373.8" y1="468.7" x2="376.4" y2="470.9" stroke="#ffaa00"/><line x1="376.4" y1="470.9" x2="378.9" y2="473.2" stroke="#ffb100"/><line x1="378.9" y1="473.2" x2="381.5" y2="475.4" stroke="#ffb700"/><line x1="381.5" y1="475.4" x2="382.8" y2="478.9" stroke="#ffbb00"/><line x1="382.8" y1="478.9" x2="384" y2="482.4" stroke="#ffbe00"/><line x1="384" y1="482.4" x2="385.3" y2="485.9" stroke="#ffc100"/><line x1="385.3" y1="485.9" x2="387.2" y2="482.7" stroke="#ffc500"/><line x1="387.2" y1="482.7" x2="389.1" y2="479.5" stroke="#ffc900"/><line x1="389.1" y1="479.5" x2="391" y2="476.3" stroke="#ffce00"/><line x1="391" y1="476.3" x2="393.4" y2="473.9" stroke="#ffd300"/><line x1="393.4" y1="473.9" x2="395.8" y2="471.6" stroke="#ffd900"/><line x1="395.8" y1="471.6" x2="398.2" y2="469.2" stroke="#ffde00"/><line x1="398.2" y1="469.2" x2="400.6" y2="466.8" stroke="#ffe400"/><line x1="400.6" y1="466.8" x2="404.6" y2="468.7" stroke="#fdea00"/><line x1="404.6" y1="468.7" x2="408.6" y2="470.6" stroke="#f4ec00"/><line x1="408.6" y1="470.6" x2="410.8" y2="468" stroke="#ecee00"/><line x1="410.8" y1="468" x2="412.9" y2="465.3" stroke="#e7ef00"/><line x1="412.9" y1="465.3" x2="413.3" y2="461.7" stroke="#e5ef00"/><line x1="413.3" y1="461.7" x2="413.6" y2="458.1" stroke="#e4f000"/><line x1="413.6" y1="458.1" x2="414" y2="454.5" stroke="#e3f000"/><line x1="414" y1="454.5" x2="417.2" y2="450.2" stroke="#dff100"/><line x1="417.2" y1="450.2" x2="417.8" y2="446.7" stroke="#daf100"/><line x1="417.8" y1="446.7" x2="418.3" y2="443.2" stroke="#d9f200"/><line x1="418.3" y1="443.2" x2="418.8" y2="439.7" stroke="#d8f200"/><line x1="418.8" y1="439.7" x2="419.4" y2="436.2" stroke="#d7f200"/><line x1="419.4" y1="436.2" x2="419.7" y2="432.6" stroke="#d6f200"/><line x1="419.7" y1="432.6" x2="420.1" y2="429.1" stroke="#d5f300"/><line x1="420.1" y1="429.1" x2="420.4" y2="425.5" stroke="#d4f300"/><line x1="420.4" y1="425.5" x2="420.9" y2="421.2" stroke="#d3f300"/><line x1="420.9" y1="421.2" x2="421.5" y2="416.9" stroke="#d2f300"/><line x1="421.5" y1="416.9" x2="422.4" y2="413.3" stroke="#d0f300"/><line x1="422.4" y1="413.3" x2="423.3" y2="409.7" stroke="#cef400"/><line x1="423.3" y1="409.7" x2="424.2" y2="406.1" stroke="#ccf400"/><line x1="424.2" y1="406.1" x2="425.5" y2="408.8" stroke="#c9f500"/><line x1="425.5" y1="408.8" x2="426.9" y2="411.5" stroke="#c6f500"/><line x1="426.9" y1="411.5" x2="427.9" y2="415.8" stroke="#c3f600"/><line x1="427.9" y1="415.8" x2="429" y2="420.1" stroke="#c1f700"/><line x1="429" y1="420.1" x2="430.1" y2="425.5" stroke="#bef700"/><line x1="430.1" y1="425.5" x2="431.2" y2="422.3" stroke="#bcf800"/><line x1="431.2" y1="422.3" x2="432.2" y2="419.1" stroke="#b9f800"/><line x1="432.2" y1="419.1" x2="433.3" y2="415.8" stroke="#b7f900"/><line x1="433.3" y1="415.8" x2="434.4" y2="412.6" stroke="#b4f900"/><line x1="434.4" y1="412.6" x2="437.6" y2="414.2" stroke="#affa00"/><line x1="437.6" y1="414.2" x2="440.9" y2="415.8" stroke="#a8fc00"/><line x1="440.9" y1="415.8" x2="444.1" y2="418" stroke="#a0fd00"/><line x1="444.1" y1="418" x2="445.3" y2="421.6" stroke="#9bfe00"/><line x1="445.3" y1="421.6" x2="446.6" y2="425.1" stroke="#98ff00"/><line x1="446.6" y1="425.1" x2="447.8" y2="428.7" stroke="#96ff02"/><line x1="447.8" y1="428.7" x2="449.1" y2="425.5" stroke="#93ff06"/><line x1="449.1" y1="425.5" x2="450.5" y2="422.3" stroke="#90ff0a"/><line x1="450.5" y1="422.3" x2="453.2" y2="424.5" stroke="#8bff11"/><line x1="453.2" y1="424.5" x2="455.9" y2="426.6" stroke="#85ff1a"/><line x1="455.9" y1="426.6" x2="457.3" y2="430.2" stroke="#80ff20"/><line x1="457.3" y1="430.2" x2="458.8" y2="433.7" stroke="#7dff25"/><line x1="458.8" y1="433.7" x2="460.2" y2="437.3" stroke="#79ff29"/><line x1="460.2" y1="437.3" x2="461.3" y2="433.6" stroke="#76ff2e"/><line x1="461.3" y1="433.6" x2="462.4" y2="429.8" stroke="#74ff31"/><line x1="462.4" y1="429.8" x2="465" y2="432.5" stroke="#70ff37"/><line x1="465" y1="432.5" x2="467.7" y2="435.2" stroke="#6aff40"/><line x1="467.7" y1="435.2" x2="471" y2="433" stroke="#63ff49"/><line x1="471" y1="433" x2="472.4" y2="429.4" stroke="#5dff51"/><line x1="472.4" y1="429.4" x2="473.9" y2="425.9" stroke="#5aff55"/><line x1="473.9" y1="425.9" x2="475.3" y2="422.3" stroke="#57ff5a"/><line x1="475.3" y1="422.3" x2="478.5" y2="422.8" stroke="#52ff61"/><line x1="478.5" y1="422.8" x2="481.7" y2="423.3" stroke="#4aff6c"/><line x1="481.7" y1="423.3" x2="484.9" y2="423.9" stroke="#43ff76"/><line x1="484.9" y1="423.9" x2="488.2" y2="424.4" stroke="#3bff80"/><line x1="488.2" y1="424.4" x2="491.4" y2="426" stroke="#34ff8b"/><line x1="491.4" y1="426" x2="494.6" y2="427.6" stroke="#2dff95"/><line x1="494.6" y1="427.6" x2="496.8" y2="433" stroke="#2afa9b"/><line x1="496.8" y1="433" x2="500" y2="431.9" stroke="#28f5a0"/><line x1="500" y1="431.9" x2="503.2" y2="430.9" stroke="#25efa6"/><line x1="503.2" y1="430.9" x2="505.4" y2="434.6" stroke="#23eaab"/><line x1="505.4" y1="434.6" x2="507.5" y2="438.4" stroke="#21e6b0"/><line x1="507.5" y1="438.4" x2="508.6" y2="443.8" stroke="#20e3b3"/><line x1="508.6" y1="443.8" x2="510.2" y2="440.6" stroke="#1fe0b5"/><line x1="510.2" y1="440.6" x2="511.8" y2="437.3" stroke="#1eddb9"/><line x1="511.8" y1="437.3" x2="514" y2="440" stroke="#1cdabc"/><line x1="514" y1="440" x2="516.1" y2="442.7" stroke="#1ad5c0"/><line x1="516.1" y1="442.7" x2="517.2" y2="439.8" stroke="#19d2c4"/><line x1="517.2" y1="439.8" x2="518.3" y2="437" stroke="#18d0c6"/><line x1="518.3" y1="437" x2="519.4" y2="434.1" stroke="#17cec8"/><line x1="519.4" y1="434.1" x2="522.6" y2="436.2" stroke="#15cacc"/><line x1="522.6" y1="436.2" x2="525.8" y2="438.4" stroke="#13c4d2"/><line x1="525.8" y1="438.4" x2="530.1" y2="441.6" stroke="#10bdda"/><line x1="530.1" y1="441.6" x2="532.2" y2="443.8" stroke="#0db7e0"/><line x1="532.2" y1="443.8" x2="534.4" y2="445.9" stroke="#0bb2e4"/><line x1="534.4" y1="445.9" x2="534.9" y2="449.5" stroke="#0ab0e7"/><line x1="534.9" y1="449.5" x2="535.5" y2="453.1" stroke="#0aafe8"/><line x1="535.5" y1="453.1" x2="536" y2="456.7" stroke="#09aee9"/><line x1="536" y1="456.7" x2="537.9" y2="453.4" stroke="#08abeb"/><line x1="537.9" y1="453.4" x2="539.8" y2="450.2" stroke="#06a7ef"/><line x1="539.8" y1="450.2" x2="542" y2="452.4" stroke="#05a3f4"/><line x1="542" y1="452.4" x2="544.1" y2="454.5" stroke="#039ef9"/><line x1="544.1" y1="454.5" x2="548.4" y2="451.3" stroke="#0097ff"/><line x1="548.4" y1="451.3" x2="549.8" y2="448.1" stroke="#008fff"/><line x1="549.8" y1="448.1" x2="551.1" y2="444.8" stroke="#008cff"/><line x1="551.1" y1="444.8" x2="554.8" y2="449.1" stroke="#0085ff"/><line x1="554.8" y1="449.1" x2="558" y2="451.8" stroke="#007bff"/><line x1="558" y1="451.8" x2="561.3" y2="454.5" stroke="#0073ff"/><line x1="561.3" y1="454.5" x2="564.5" y2="452.4" stroke="#006aff"/><line x1="564.5" y1="452.4" x2="567.7" y2="450.2" stroke="#0061ff"/><line x1="567.7" y1="450.2" x2="571" y2="451.8" stroke="#0058ff"/><line x1="571" y1="451.8" x2="574.2" y2="453.4" stroke="#0050ff"/><line x1="574.2" y1="453.4" x2="577.4" y2="451.2" stroke="#0047ff"/><line x1="577.4" y1="451.2" x2="580.6" y2="449.1" stroke="#003eff"/><line x1="580.6" y1="449.1" x2="582.8" y2="446.5" stroke="#0037ff"/><line x1="582.8" y1="446.5" x2="584.9" y2="443.8" stroke="#0031ff"/><line x1="584.9" y1="443.8" x2="590.3" y2="444.8" stroke="#0027ff"/><line x1="590.3" y1="444.8" x2="592.4" y2="447.6" stroke="#001dff"/><line x1="592.4" y1="447.6" x2="594.5" y2="450.5" stroke="#0019fe"/><line x1="594.5" y1="450.5" x2="596.6" y2="453.3" stroke="#0018fc"/><line x1="596.6" y1="453.3" x2="599.9" y2="452.6" stroke="#0016f9"/><line x1="599.9" y1="452.6" x2="603.1" y2="452" stroke="#0014f5"/><line x1="603.1" y1="452" x2="606.4" y2="450.7" stroke="#0013f1"/><line x1="606.4" y1="450.7" x2="609.7" y2="449.4" stroke="#0011ed"/><line x1="609.7" y1="449.4" x2="611.4" y2="446.8" stroke="#0010ea"/><line x1="611.4" y1="446.8" x2="613" y2="444.1" stroke="#000fe8"/><line x1="613" y1="444.1" x2="614.6" y2="441.4" stroke="#000ee6"/><line x1="614.6" y1="441.4" x2="616.3" y2="438.8" stroke="#000de5"/><line x1="616.3" y1="438.8" x2="616.3" y2="433.6" stroke="#000de4"/><line x1="616.3" y1="433.6" x2="618" y2="436.7" stroke="#000ce2"/><line x1="618" y1="436.7" x2="619.8" y2="439.7" stroke="#000be0"/><line x1="619.8" y1="439.7" x2="621.5" y2="442.8" stroke="#000ade"/><line x1="621.5" y1="442.8" x2="623.1" y2="440.2" stroke="#0009dc"/><line x1="623.1" y1="440.2" x2="624.8" y2="437.6" stroke="#0008da"/><line x1="624.8" y1="437.6" x2="626.5" y2="434.9" stroke="#0007d8"/><line x1="626.5" y1="434.9" x2="628.1" y2="432.3" stroke="#0006d6"/><line x1="628.1" y1="432.3" x2="631.4" y2="432.6" stroke="#0005d3"/><line x1="631.4" y1="432.6" x2="634.7" y2="432.9" stroke="#0003cf"/><line x1="634.7" y1="432.9" x2="636" y2="435.9" stroke="#0002cc"/><line x1="636" y1="435.9" x2="637.3" y2="438.8" stroke="#0001cb"/><line x1="637.3" y1="438.8" x2="642.6" y2="438.8" stroke="#0400c5"/><line x1="642.6" y1="438.8" x2="644.5" y2="436.5" stroke="#1000bc"/><line x1="644.5" y1="436.5" x2="646.5" y2="434.2" stroke="#1700b7"/><line x1="646.5" y1="434.2" x2="649.8" y2="435.2" stroke="#1f00b1"/><line x1="649.8" y1="435.2" x2="653.1" y2="436.2" stroke="#2a00a9"/><line x1="653.1" y1="436.2" x2="657" y2="434.9" stroke="#3600a0"/><line x1="657" y1="434.9" x2="661" y2="433.6" stroke="#440096"/><line x1="661" y1="433.6" x2="664.9" y2="433" stroke="#51008d"/><line x1="664.9" y1="433" x2="668.8" y2="432.3" stroke="#5e0083"/><line x1="668.8" y1="432.3" x2="672.8" y2="428.3" stroke="#6b007a"/><line x1="672.8" y1="428.3" x2="675.4" y2="423.1" stroke="#760072"/><line x1="675.4" y1="423.1" x2="678" y2="418.5" stroke="#7f006b"/><line x1="678" y1="418.5" x2="680" y2="420.8" stroke="#860066"/><line x1="680" y1="420.8" x2="682" y2="423.1" stroke="#8d0061"/><line x1="682" y1="423.1" x2="687.2" y2="421.8" stroke="#8a0063"/><line x1="687.2" y1="421.8" x2="691.2" y2="425.7" stroke="#8a0063"/><line x1="691.2" y1="425.7" x2="695.1" y2="427" stroke="#8a0063"/><line x1="695.1" y1="427" x2="700.4" y2="424.4" stroke="#ff5a00"/><line x1="700.4" y1="424.4" x2="705.6" y2="425.7" stroke="#ff6000"/><line x1="705.6" y1="425.7" x2="708.7" y2="424.4" stroke="#ff6500"/><line x1="708.7" y1="424.4" x2="711.7" y2="423.1" stroke="#ff6800"/><line x1="711.7" y1="423.1" x2="714.8" y2="421.8" stroke="#ff6c00"/><line x1="714.8" y1="421.8" x2="718.1" y2="420.5" stroke="#ff6f00"/><line x1="718.1" y1="420.5" x2="721.4" y2="419.1" stroke="#ff7400"/><line x1="721.4" y1="419.1" x2="724.7" y2="417.8" stroke="#ff7b00"/><line x1="724.7" y1="417.8" x2="728" y2="416.5" stroke="#ff8200"/><line x1="728" y1="416.5" x2="730.6" y2="413.2" stroke="#ff8900"/><line x1="730.6" y1="413.2" x2="733.2" y2="410" stroke="#ff8f00"/><line x1="733.2" y1="410" x2="733.9" y2="413.9" stroke="#ff9300"/><line x1="733.9" y1="413.9" x2="734.5" y2="417.8" stroke="#ff9400"/><line x1="734.5" y1="417.8" x2="736.7" y2="415.2" stroke="#ff9800"/><line x1="736.7" y1="415.2" x2="738.9" y2="412.6" stroke="#ff9d00"/><line x1="738.9" y1="412.6" x2="741.1" y2="410" stroke="#ffa200"/><line x1="741.1" y1="410" x2="743.7" y2="408.2" stroke="#ffa700"/><line x1="743.7" y1="408.2" x2="746.4" y2="406.5" stroke="#ffad00"/><line x1="746.4" y1="406.5" x2="749" y2="404.7" stroke="#ffb300"/><line x1="749" y1="404.7" x2="750.8" y2="407.3" stroke="#ffb800"/><line x1="750.8" y1="407.3" x2="752.5" y2="410" stroke="#ffbd00"/><line x1="752.5" y1="410" x2="754.3" y2="412.6" stroke="#ffc200"/><line x1="754.3" y1="412.6" x2="756.5" y2="410.4" stroke="#ffc700"/><line x1="756.5" y1="410.4" x2="758.6" y2="408.2" stroke="#ffcd00"/><line x1="758.6" y1="408.2" x2="760.8" y2="406" stroke="#ffd300"/><line x1="760.8" y1="406" x2="762.6" y2="403.4" stroke="#ffd900"/><line x1="762.6" y1="403.4" x2="764.3" y2="400.7" stroke="#ffde00"/><line x1="764.3" y1="400.7" x2="766.1" y2="398.1" stroke="#ffe300"/><line x1="766.1" y1="398.1" x2="767.4" y2="395.2" stroke="#ffe700"/><line x1="767.4" y1="395.2" x2="768.7" y2="392.2" stroke="#ffea00"/><line x1="768.7" y1="392.2" x2="770" y2="389.2" stroke="#fceb00"/><line x1="770" y1="389.2" x2="771.3" y2="386.3" stroke="#f9eb00"/><line x1="771.3" y1="386.3" x2="774" y2="384.3" stroke="#f4ec00"/><line x1="774" y1="384.3" x2="776.6" y2="382.3" stroke="#eeed00"/><line x1="776.6" y1="382.3" x2="780" y2="384.2" stroke="#e7ef00"/><line x1="780" y1="384.2" x2="781.8" y2="386.7" stroke="#e1f000"/><line x1="781.8" y1="386.7" x2="783.6" y2="389.2" stroke="#ddf100"/><line x1="783.6" y1="389.2" x2="785.4" y2="391.7" stroke="#d9f200"/><line x1="785.4" y1="391.7" x2="786.5" y2="387.4" stroke="#d6f200"/><line x1="786.5" y1="387.4" x2="787.5" y2="383.1" stroke="#d4f300"/><line x1="787.5" y1="383.1" x2="788.6" y2="380.2" stroke="#d1f300"/><line x1="788.6" y1="380.2" x2="789.6" y2="377.2" stroke="#cff400"/><line x1="789.6" y1="377.2" x2="790.7" y2="374.2" stroke="#ccf400"/><line x1="790.7" y1="374.2" x2="791.8" y2="371.3" stroke="#caf500"/><line x1="791.8" y1="371.3" x2="794.5" y2="369.1" stroke="#c6f500"/><line x1="794.5" y1="369.1" x2="797.2" y2="367" stroke="#c1f700"/><line x1="797.2" y1="367" x2="798.6" y2="370.2" stroke="#bdf700"/><line x1="798.6" y1="370.2" x2="800.1" y2="373.5" stroke="#baf800"/><line x1="800.1" y1="373.5" x2="801.5" y2="376.7" stroke="#b7f900"/><line x1="801.5" y1="376.7" x2="802.8" y2="373.9" stroke="#b4f900"/><line x1="802.8" y1="373.9" x2="804.1" y2="371.1" stroke="#b2fa00"/><line x1="804.1" y1="371.1" x2="805.4" y2="368.3" stroke="#affa00"/><line x1="805.4" y1="368.3" x2="806.7" y2="365.5" stroke="#acfb00"/><line x1="806.7" y1="365.5" x2="808" y2="362.7" stroke="#aafb00"/><line x1="808" y1="362.7" x2="810.5" y2="360.2" stroke="#a6fc00"/><line x1="810.5" y1="360.2" x2="813" y2="357.7" stroke="#a1fd00"/><line x1="813" y1="357.7" x2="815.5" y2="355.2" stroke="#9cfe00"/><line x1="815.5" y1="355.2" x2="817.6" y2="352.5" stroke="#97ff00"/><line x1="817.6" y1="352.5" x2="819.8" y2="349.8" stroke="#93ff06"/><line x1="819.8" y1="349.8" x2="820.6" y2="346.3" stroke="#90ff0a"/><line x1="820.6" y1="346.3" x2="821.4" y2="342.8" stroke="#8eff0d"/><line x1="821.4" y1="342.8" x2="822.2" y2="339.3" stroke="#8cff0f"/><line x1="822.2" y1="339.3" x2="823" y2="335.8" stroke="#8bff11"/><line x1="823" y1="335.8" x2="824.9" y2="331.8" stroke="#88ff15"/><line x1="824.9" y1="331.8" x2="826.8" y2="327.7" stroke="#84ff1b"/><line x1="826.8" y1="327.7" x2="827.7" y2="330.8" stroke="#81ff1f"/><line x1="827.7" y1="330.8" x2="828.6" y2="333.8" stroke="#80ff21"/><line x1="828.6" y1="333.8" x2="829.5" y2="336.9" stroke="#7eff23"/><line x1="829.5" y1="336.9" x2="832.7" y2="332.6" stroke="#7bff27"/><line x1="832.7" y1="332.6" x2="833.8" y2="335.8" stroke="#77ff2c"/><line x1="833.8" y1="335.8" x2="834.8" y2="339.1" stroke="#76ff2f"/><line x1="834.8" y1="339.1" x2="835.9" y2="342.3" stroke="#74ff31"/><line x1="835.9" y1="342.3" x2="836.8" y2="345.3" stroke="#73ff33"/><line x1="836.8" y1="345.3" x2="837.6" y2="348.3" stroke="#71ff35"/><line x1="837.6" y1="348.3" x2="838.5" y2="351.3" stroke="#70ff37"/><line x1="838.5" y1="351.3" x2="839.3" y2="354.3" stroke="#6eff39"/><line x1="839.3" y1="354.3" x2="840.2" y2="357.3" stroke="#6dff3b"/><line x1="840.2" y1="357.3" x2="841.1" y2="354.3" stroke="#6cff3d"/><line x1="841.1" y1="354.3" x2="841.9" y2="351.3" stroke="#6aff3f"/><line x1="841.9" y1="351.3" x2="842.8" y2="348.3" stroke="#69ff41"/><line x1="842.8" y1="348.3" x2="843.6" y2="345.3" stroke="#68ff43"/><line x1="843.6" y1="345.3" x2="844.5" y2="342.3" stroke="#66ff45"/><line x1="844.5" y1="342.3" x2="848.8" y2="344.4" stroke="#62ff4a"/><line x1="848.8" y1="344.4" x2="850.4" y2="347.6" stroke="#5dff51"/><line x1="850.4" y1="347.6" x2="852" y2="350.9" stroke="#5bff55"/><line x1="852" y1="350.9" x2="853.7" y2="354.1" stroke="#58ff58"/><line x1="853.7" y1="354.1" x2="855.3" y2="357.3" stroke="#55ff5c"/><line x1="855.3" y1="357.3" x2="857.4" y2="354.6" stroke="#52ff60"/><line x1="857.4" y1="354.6" x2="859.6" y2="352" stroke="#4fff65"/><line x1="859.6" y1="352" x2="861.8" y2="349.3" stroke="#4cff6a"/><line x1="861.8" y1="349.3" x2="863.9" y2="346.6" stroke="#48ff6f"/><line x1="863.9" y1="346.6" x2="866.4" y2="348.7" stroke="#44ff74"/><line x1="866.4" y1="348.7" x2="868.9" y2="350.9" stroke="#40ff79"/><line x1="868.9" y1="350.9" x2="871.4" y2="353" stroke="#3cff7f"/><line x1="871.4" y1="353" x2="873.5" y2="355.1" stroke="#39ff84"/><line x1="873.5" y1="355.1" x2="875.7" y2="357.3" stroke="#35ff89"/><line x1="875.7" y1="357.3" x2="877.9" y2="359.5" stroke="#32ff8e"/><line x1="877.9" y1="359.5" x2="880" y2="361.6" stroke="#2eff93"/><line x1="880" y1="361.6" x2="882.2" y2="358.4" stroke="#2bfe97"/><line x1="882.2" y1="358.4" x2="884.3" y2="355.1" stroke="#2af99c"/><line x1="884.3" y1="355.1" x2="886.5" y2="351.9" stroke="#28f5a0"/><line x1="886.5" y1="351.9" x2="888.3" y2="355.1" stroke="#26f2a4"/><line x1="888.3" y1="355.1" x2="890" y2="358.4" stroke="#25eea7"/><line x1="890" y1="358.4" x2="891.8" y2="361.6" stroke="#23ebab"/><line x1="891.8" y1="361.6" x2="894.5" y2="358.4" stroke="#22e7af"/><line x1="894.5" y1="358.4" x2="897.2" y2="355.2" stroke="#1fe1b4"/><line x1="897.2" y1="355.2" x2="899.9" y2="356.8" stroke="#1ddcba"/><line x1="899.9" y1="356.8" x2="902.6" y2="358.4" stroke="#1bd7bf"/><line x1="902.6" y1="358.4" x2="905.8" y2="358.7" stroke="#18d1c5"/><line x1="905.8" y1="358.7" x2="909" y2="358.9" stroke="#16cbcb"/><line x1="909" y1="358.9" x2="912.3" y2="359.2" stroke="#13c5d1"/><line x1="912.3" y1="359.2" x2="915.5" y2="359.5" stroke="#11bfd8"/><line x1="915.5" y1="359.5" x2="916.9" y2="362.4" stroke="#0ebadc"/><line x1="916.9" y1="362.4" x2="918.4" y2="365.2" stroke="#0db7e0"/><line x1="918.4" y1="365.2" x2="919.8" y2="368.1" stroke="#0cb4e3"/><line x1="919.8" y1="368.1" x2="921.6" y2="371.7" stroke="#0ab0e6"/><line x1="921.6" y1="371.7" x2="923.4" y2="375.2" stroke="#09acea"/><line x1="923.4" y1="375.2" x2="925.2" y2="378.8" stroke="#07a8ee"/><line x1="925.2" y1="378.8" x2="927.9" y2="376.1" stroke="#05a4f3"/><line x1="927.9" y1="376.1" x2="930.5" y2="373.4" stroke="#039ef9"/><line x1="930.5" y1="373.4" x2="933.4" y2="374.8" stroke="#0098ff"/><line x1="933.4" y1="374.8" x2="936.3" y2="376.3" stroke="#0090ff"/><line x1="936.3" y1="376.3" x2="939.2" y2="377.7" stroke="#0089ff"/><line x1="939.2" y1="377.7" x2="943" y2="375.6" stroke="#007fff"/><line x1="943" y1="375.6" x2="946.7" y2="373.5" stroke="#0072ff"/><line x1="946.7" y1="373.5" x2="950.5" y2="372.6" stroke="#0065ff"/><line x1="950.5" y1="372.6" x2="954.2" y2="371.8" stroke="#0058ff"/><line x1="954.2" y1="371.8" x2="954.7" y2="368.5" stroke="#0051ff"/><line x1="954.7" y1="368.5" x2="955.1" y2="365.2" stroke="#0050ff"/><line x1="955.1" y1="365.2" x2="959.2" y2="363.9" stroke="#0048ff"/><line x1="959.2" y1="363.9" x2="963.4" y2="362.6" stroke="#003aff"/><line x1="963.4" y1="362.6" x2="964.7" y2="358.9" stroke="#0030ff"/><line x1="964.7" y1="358.9" x2="966" y2="355.1" stroke="#002cff"/><line x1="966" y1="355.1" x2="967.6" y2="350.9" stroke="#0027ff"/><line x1="967.6" y1="350.9" x2="970.5" y2="352.1" stroke="#001fff"/><line x1="970.5" y1="352.1" x2="973.5" y2="353.4" stroke="#0018fd"/><line x1="973.5" y1="353.4" x2="974.5" y2="350.3" stroke="#0017fa"/><line x1="974.5" y1="350.3" x2="975.6" y2="347.1" stroke="#0016f9"/><line x1="975.6" y1="347.1" x2="976.7" y2="344" stroke="#0015f7"/><line x1="976.7" y1="344" x2="977.7" y2="340.9" stroke="#0015f6"/><line x1="977.7" y1="340.9" x2="979.3" y2="338.4" stroke="#0014f4"/><line x1="979.3" y1="338.4" x2="982.7" y2="340.1" stroke="#0012f0"/><line x1="982.7" y1="340.1" x2="984" y2="344.2" stroke="#0011ed"/><line x1="984" y1="344.2" x2="985.2" y2="348.4" stroke="#0010eb"/><line x1="985.2" y1="348.4" x2="986.9" y2="345.9" stroke="#000fe9"/><line x1="986.9" y1="345.9" x2="988.5" y2="343.4" stroke="#000ee6"/><line x1="988.5" y1="343.4" x2="990.2" y2="340.9" stroke="#000de4"/><line x1="990.2" y1="340.9" x2="992.7" y2="343.9" stroke="#000be1"/><line x1="992.7" y1="343.9" x2="995.2" y2="346.8" stroke="#000add"/><line x1="995.2" y1="346.8" x2="998.5" y2="346" stroke="#0008d9"/><line x1="998.5" y1="346" x2="1001.9" y2="345.1" stroke="#0005d4"/><line x1="1001.9" y1="345.1" x2="1002.8" y2="348.9" stroke="#0004d1"/><line x1="1002.8" y1="348.9" x2="1003.6" y2="352.6" stroke="#0004d0"/><line x1="1003.6" y1="352.6" x2="1007" y2="353.9" stroke="#0003ce"/><line x1="1007" y1="353.9" x2="1010.3" y2="355.1" stroke="#0001cb"/><line x1="1010.3" y1="355.1" x2="1011.5" y2="351.4" stroke="#0000c9"/><line x1="1011.5" y1="351.4" x2="1012.8" y2="347.6" stroke="#0200c7"/><line x1="1012.8" y1="347.6" x2="1015.7" y2="350.5" stroke="#0800c2"/><line x1="1015.7" y1="350.5" x2="1018.6" y2="353.4" stroke="#1000bd"/><line x1="1018.6" y1="353.4" x2="1020.3" y2="357.6" stroke="#1600b8"/><line x1="1020.3" y1="357.6" x2="1026.2" y2="358.5" stroke="#2100b0"/><line x1="1026.2" y1="358.5" x2="1030.3" y2="355.1" stroke="#2e00a6"/><line x1="1030.3" y1="355.1" x2="1033.2" y2="351.8" stroke="#38009f"/><line x1="1033.2" y1="351.8" x2="1036.2" y2="348.4" stroke="#400099"/><line x1="1036.2" y1="348.4" x2="1041.2" y2="345.1" stroke="#4b0091"/><line x1="1041.2" y1="345.1" x2="1044.2" y2="347.2" stroke="#560089"/><line x1="1044.2" y1="347.2" x2="1047.1" y2="349.3" stroke="#5f0083"/><line x1="1047.1" y1="349.3" x2="1049.6" y2="353.4" stroke="#66007d"/><line x1="1049.6" y1="353.4" x2="1049.6" y2="356.5" stroke="#6a007b"/><line x1="1049.6" y1="356.5" x2="1049.6" y2="359.7" stroke="#6a007b"/><line x1="1049.6" y1="359.7" x2="1049.6" y2="362.9" stroke="#6a007b"/><line x1="1049.6" y1="362.9" x2="1049.6" y2="366" stroke="#6a007b"/><line x1="1049.6" y1="366" x2="1050.4" y2="366.8" stroke="#6b007a"/><line x1="1050.4" y1="366.8" x2="1050.8" y2="363.1" stroke="#6c0078"/><line x1="1050.8" y1="363.1" x2="1051.2" y2="359.3" stroke="#6e0078"/><line x1="1051.2" y1="359.3" x2="1054.2" y2="357.2" stroke="#720074"/><line x1="1054.2" y1="357.2" x2="1057.1" y2="355.1" stroke="#7a006e"/><line x1="1057.1" y1="355.1" x2="1061.3" y2="353.4" stroke="#840067"/><line x1="1061.3" y1="353.4" x2="1062.9" y2="349.3" stroke="#8c0061"/><line x1="1062.9" y1="349.3" x2="1064.6" y2="347.6" stroke="#91005e"/><line x1="1064.6" y1="347.6" x2="1068.3" y2="347.2" stroke="#ff0200"/><line x1="1068.3" y1="347.2" x2="1072.1" y2="346.8" stroke="#ff0a00"/><line x1="1072.1" y1="346.8" x2="1076.3" y2="347.6" stroke="#ff1300"/><line x1="1076.3" y1="347.6" x2="1080.5" y2="348.4" stroke="#ff1d00"/><line x1="1080.5" y1="348.4" x2="1085.7" y2="348.8" stroke="#ff2700"/><line x1="1085.7" y1="348.8" x2="1086.7" y2="345.5" stroke="#ff2e00"/><line x1="1086.7" y1="345.5" x2="1087.6" y2="342.1" stroke="#ff3000"/><line x1="1087.6" y1="342.1" x2="1092.4" y2="341.2" stroke="#ff3700"/><line x1="1092.4" y1="341.2" x2="1097.2" y2="342.1" stroke="#ff4100"/><line x1="1097.2" y1="342.1" x2="1101" y2="346" stroke="#ff4b00"/><line x1="1101" y1="346" x2="1103.9" y2="345.1" stroke="#ff5300"/><line x1="1103.9" y1="345.1" x2="1106.8" y2="344.1" stroke="#ff5900"/><line x1="1106.8" y1="344.1" x2="1108.7" y2="340.9" stroke="#ff5f00"/><line x1="1108.7" y1="340.9" x2="1110.6" y2="337.7" stroke="#ff6300"/><line x1="1110.6" y1="337.7" x2="1112.5" y2="334.5" stroke="#ff6700"/><line x1="1112.5" y1="334.5" x2="1115.3" y2="331.1" stroke="#ff6c00"/><line x1="1115.3" y1="331.1" x2="1118.2" y2="327.8" stroke="#ff7300"/><line x1="1118.2" y1="327.8" x2="1123" y2="326.8" stroke="#ff7d00"/><line x1="1123" y1="326.8" x2="1124.3" y2="323.9" stroke="#ff8400"/><line x1="1124.3" y1="323.9" x2="1125.5" y2="321.1" stroke="#ff8700"/><line x1="1125.5" y1="321.1" x2="1126.8" y2="318.2" stroke="#ff8b00"/><line x1="1126.8" y1="318.2" x2="1128.1" y2="314.7" stroke="#ff8e00"/><line x1="1128.1" y1="314.7" x2="1129.4" y2="311.2" stroke="#ff9100"/><line x1="1129.4" y1="311.2" x2="1130.7" y2="307.7" stroke="#ff9400"/><line x1="1130.7" y1="307.7" x2="1133.5" y2="311.5" stroke="#ff9900"/><line x1="1133.5" y1="311.5" x2="1136.4" y2="316.3" stroke="#ffa000"/><line x1="1136.4" y1="316.3" x2="1137.8" y2="313" stroke="#ffa600"/><line x1="1137.8" y1="313" x2="1139.3" y2="309.6" stroke="#ffa900"/><line x1="1139.3" y1="309.6" x2="1140.2" y2="305.8" stroke="#ffac00"/><line x1="1140.2" y1="305.8" x2="1141.2" y2="302" stroke="#ffaf00"/><line x1="1141.2" y1="302" x2="1142.1" y2="298.2" stroke="#ffb100"/><line x1="1142.1" y1="298.2" x2="1144.5" y2="300.5" stroke="#ffb500"/><line x1="1144.5" y1="300.5" x2="1146.9" y2="302.9" stroke="#ffbb00"/><line x1="1146.9" y1="302.9" x2="1147.8" y2="299.1" stroke="#ffbf00"/><line x1="1147.8" y1="299.1" x2="1148.8" y2="295.3" stroke="#ffc200"/><line x1="1148.8" y1="295.3" x2="1151.2" y2="298.1" stroke="#ffc600"/><line x1="1151.2" y1="298.1" x2="1153.6" y2="301" stroke="#ffcc00"/><line x1="1153.6" y1="301" x2="1155.5" y2="297.6" stroke="#ffd100"/><line x1="1155.5" y1="297.6" x2="1157.4" y2="294.3" stroke="#ffd600"/><line x1="1157.4" y1="294.3" x2="1161.3" y2="298.2" stroke="#ffdd00"/><line x1="1161.3" y1="298.2" x2="1165.1" y2="297.2" stroke="#ffe700"/><line x1="1165.1" y1="297.2" x2="1165.3" y2="300.3" stroke="#feea00"/><line x1="1165.3" y1="300.3" x2="1165.5" y2="303.4" stroke="#fdea00"/><line x1="1165.5" y1="303.4" x2="1165.8" y2="306.5" stroke="#fdea00"/><line x1="1165.8" y1="306.5" x2="1166" y2="309.6" stroke="#fceb00"/><line x1="1166" y1="309.6" x2="1168.4" y2="311.6" stroke="#f9eb00"/><line x1="1168.4" y1="311.6" x2="1170.8" y2="313.5" stroke="#f4ec00"/><line x1="1170.8" y1="313.5" x2="1173.7" y2="314.4" stroke="#efed00"/><line x1="1173.7" y1="314.4" x2="1176.6" y2="315.4" stroke="#e9ee00"/><line x1="1176.6" y1="315.4" x2="1180.4" y2="312.5" stroke="#e2f000"/><line x1="1180.4" y1="312.5" x2="1182.3" y2="314.9" stroke="#dcf100"/><line x1="1182.3" y1="314.9" x2="1184.2" y2="317.3" stroke="#d8f200"/><line x1="1184.2" y1="317.3" x2="1185.2" y2="314.1" stroke="#d5f300"/><line x1="1185.2" y1="314.1" x2="1186.1" y2="310.9" stroke="#d3f300"/><line x1="1186.1" y1="310.9" x2="1187.1" y2="307.7" stroke="#d1f300"/><line x1="1187.1" y1="307.7" x2="1191.9" y2="304.9" stroke="#cbf500"/><line x1="1191.9" y1="304.9" x2="1194.2" y2="302" stroke="#c3f600"/><line x1="1194.2" y1="302" x2="1196.6" y2="299.1" stroke="#bef700"/><line x1="1196.6" y1="299.1" x2="1198.2" y2="302.3" stroke="#baf800"/><line x1="1198.2" y1="302.3" x2="1199.8" y2="305.5" stroke="#b7f900"/><line x1="1199.8" y1="305.5" x2="1201.4" y2="308.7" stroke="#b3f900"/><line x1="1201.4" y1="308.7" x2="1204.3" y2="305.8" stroke="#affa00"/><line x1="1204.3" y1="305.8" x2="1204.8" y2="302" stroke="#abfb00"/><line x1="1204.8" y1="302" x2="1205.2" y2="298.2" stroke="#aafb00"/><line x1="1205.2" y1="298.2" x2="1207.2" y2="295.8" stroke="#a8fc00"/><line x1="1207.2" y1="295.8" x2="1209.1" y2="293.4" stroke="#a3fc00"/><line x1="1209.1" y1="293.4" x2="1214.8" y2="292.4" stroke="#9bfe00"/><line x1="1214.8" y1="292.4" x2="1217.2" y2="294.8" stroke="#93ff06"/><line x1="1217.2" y1="294.8" x2="1219.6" y2="297.2" stroke="#8eff0d"/><line x1="1219.6" y1="297.2" x2="1222.4" y2="299.1" stroke="#88ff15"/><line x1="1222.4" y1="299.1" x2="1225.3" y2="301" stroke="#82ff1e"/><line x1="1225.3" y1="301" x2="1228.2" y2="303.9" stroke="#7cff26"/><line x1="1228.2" y1="303.9" x2="1231.1" y2="306.8" stroke="#75ff2f"/><line x1="1231.1" y1="306.8" x2="1234.2" y2="311.4" stroke="#6fff38"/><line x1="1234.2" y1="311.4" x2="1237.3" y2="310.4" stroke="#68ff42"/><line x1="1237.3" y1="310.4" x2="1240.5" y2="309.3" stroke="#61ff4b"/><line x1="1240.5" y1="309.3" x2="1244.7" y2="309.3" stroke="#59ff56"/><line x1="1244.7" y1="309.3" x2="1248.9" y2="309.3" stroke="#50ff63"/><line x1="1248.9" y1="309.3" x2="1251.5" y2="307.2" stroke="#49ff6e"/><line x1="1251.5" y1="307.2" x2="1254.1" y2="305.1" stroke="#43ff75"/><line x1="1254.1" y1="305.1" x2="1258.3" y2="306.7" stroke="#3cff80"/><line x1="1258.3" y1="306.7" x2="1262.5" y2="308.3" stroke="#33ff8c"/><line x1="1262.5" y1="308.3" x2="1263" y2="312.5" stroke="#2eff94"/><line x1="1263" y1="312.5" x2="1263.5" y2="316.7" stroke="#2dff95"/><line x1="1263.5" y1="316.7" x2="1267.7" y2="316.1" stroke="#2afb9a"/><line x1="1267.7" y1="316.1" x2="1271.9" y2="315.6" stroke="#26f2a3"/><line x1="1271.9" y1="315.6" x2="1272.2" y2="319.4" stroke="#24eda8"/><line x1="1272.2" y1="319.4" x2="1272.6" y2="323.3" stroke="#24eda9"/><line x1="1272.6" y1="323.3" x2="1272.9" y2="327.1" stroke="#24eca9"/><line x1="1272.9" y1="327.1" x2="1276.6" y2="327.6" stroke="#22e8ae"/><line x1="1276.6" y1="327.6" x2="1280.3" y2="328.2" stroke="#1fe0b6"/><line x1="1280.3" y1="328.2" x2="1283.1" y2="326.1" stroke="#1cd9bc"/><line x1="1283.1" y1="326.1" x2="1285.8" y2="324" stroke="#19d4c2"/><line x1="1285.8" y1="324" x2="1288.6" y2="321.9" stroke="#17cec8"/><line x1="1288.6" y1="321.9" x2="1290.7" y2="324.5" stroke="#15c9cd"/><line x1="1290.7" y1="324.5" x2="1292.8" y2="327.1" stroke="#13c4d2"/><line x1="1292.8" y1="327.1" x2="1298.1" y2="325" stroke="#10bdda"/><line x1="1298.1" y1="325" x2="1300.7" y2="327.1" stroke="#0cb4e2"/><line x1="1300.7" y1="327.1" x2="1303.3" y2="329.2" stroke="#0aafe8"/><line x1="1303.3" y1="329.2" x2="1306.4" y2="328.2" stroke="#07a9ee"/><line x1="1306.4" y1="328.2" x2="1309.6" y2="327.1" stroke="#04a2f4"/><line x1="1309.6" y1="327.1" x2="1312.7" y2="326.1" stroke="#029cfb"/><line x1="1312.7" y1="326.1" x2="1313.2" y2="329.8" stroke="#0098ff"/><line x1="1313.2" y1="329.8" x2="1313.8" y2="333.4" stroke="#0097ff"/><line x1="1313.8" y1="333.4" x2="1318" y2="332.4" stroke="#0091ff"/><line x1="1318" y1="332.4" x2="1322.2" y2="331.3" stroke="#0086ff"/><line x1="1322.2" y1="331.3" x2="1325.8" y2="331.9" stroke="#007cff"/><line x1="1325.8" y1="331.9" x2="1329.5" y2="332.4" stroke="#0072ff"/><line x1="1329.5" y1="332.4" x2="1330.5" y2="328.2" stroke="#006cff"/><line x1="1330.5" y1="328.2" x2="1331.6" y2="324" stroke="#006aff"/><line x1="1331.6" y1="324" x2="1335.2" y2="322.9" stroke="#0064ff"/><line x1="1335.2" y1="322.9" x2="1338.9" y2="321.9" stroke="#005aff"/><line x1="1338.9" y1="321.9" x2="1343.1" y2="322.9" stroke="#0050ff"/><line x1="1343.1" y1="322.9" x2="1346.3" y2="327.1" stroke="#0047ff"/><line x1="1346.3" y1="327.1" x2="1347" y2="324" stroke="#0042ff"/><line x1="1347" y1="324" x2="1347.6" y2="320.8" stroke="#0040ff"/><line x1="1347.6" y1="320.8" x2="1348.3" y2="317.7" stroke="#003eff"/><line x1="1348.3" y1="317.7" x2="1352" y2="316.6" stroke="#0039ff"/><line x1="1352" y1="316.6" x2="1355.7" y2="315.6" stroke="#002fff"/><line x1="1355.7" y1="315.6" x2="1358.8" y2="316.7" stroke="#0026ff"/><line x1="1358.8" y1="316.7" x2="1362" y2="317.7" stroke="#001eff"/><line x1="1362" y1="317.7" x2="1365.1" y2="318.8" stroke="#0018fe"/><line x1="1365.1" y1="318.8" x2="1368.8" y2="319.8" stroke="#0017fa"/><line x1="1368.8" y1="319.8" x2="1372.4" y2="320.8" stroke="#0015f6"/><line x1="1372.4" y1="320.8" x2="1374" y2="318.2" stroke="#0014f3"/><line x1="1374" y1="318.2" x2="1375.6" y2="315.6" stroke="#0013f1"/><line x1="1375.6" y1="315.6" x2="1380.8" y2="314.6" stroke="#0011ee"/><line x1="1380.8" y1="314.6" x2="1385" y2="315.6" stroke="#000fe8"/><line x1="1385" y1="315.6" x2="1389.2" y2="316.7" stroke="#000de4"/><line x1="1389.2" y1="316.7" x2="1393.4" y2="320.8" stroke="#000adf"/><line x1="1393.4" y1="320.8" x2="1397.6" y2="320.8" stroke="#0008da"/><line x1="1397.6" y1="320.8" x2="1400.7" y2="320.1" stroke="#0006d6"/><line x1="1400.7" y1="320.1" x2="1403.9" y2="319.5" stroke="#0005d3"/><line x1="1403.9" y1="319.5" x2="1407" y2="318.8" stroke="#0003cf"/><line x1="1407" y1="318.8" x2="1407.5" y2="315.6" stroke="#0002cd"/><line x1="1407.5" y1="315.6" x2="1408" y2="312.5" stroke="#0002cd"/><line x1="1408" y1="312.5" x2="1412.2" y2="310.9" stroke="#0001ca"/><line x1="1412.2" y1="310.9" x2="1416.4" y2="309.3" stroke="#0700c3"/><line x1="1416.4" y1="309.3" x2="1420.6" y2="305.1" stroke="#1400ba"/><line x1="1420.6" y1="305.1" x2="1423.8" y2="305.1" stroke="#1f00b1"/><line x1="1423.8" y1="305.1" x2="1426.9" y2="305.1" stroke="#2800aa"/><line x1="1426.9" y1="305.1" x2="1430.1" y2="305.6" stroke="#3200a3"/><line x1="1430.1" y1="305.6" x2="1433.2" y2="306.2" stroke="#3b009c"/><circle cx="96.2" cy="682.2" r="3.0" fill="#77ff2d"/><circle cx="101.3" cy="682.1" r="3.0" fill="#6cff3d"/><circle cx="104" cy="682.8" r="3.0" fill="#66ff45"/><circle cx="107.5" cy="682.8" r="3.0" fill="#5eff50"/><circle cx="115.3" cy="658.9" r="3.0" fill="#4dff68"/><circle cx="114.9" cy="654.4" r="3.0" fill="#4dff67"/><circle cx="115.9" cy="653" r="3.0" fill="#4bff6a"/><circle cx="118.1" cy="647.4" r="3.0" fill="#47ff71"/><circle cx="119.4" cy="647.3" r="3.0" fill="#44ff75"/><circle cx="119.1" cy="643.1" r="3.0" fill="#44ff74"/><circle cx="118.3" cy="638" r="3.0" fill="#46ff72"/><circle cx="119.8" cy="635.1" r="3.0" fill="#43ff76"/><circle cx="119.5" cy="632.6" r="3.0" fill="#43ff75"/><circle cx="120" cy="636.2" r="3.0" fill="#42ff77"/><circle cx="122" cy="640.3" r="3.0" fill="#3eff7d"/><circle cx="123.1" cy="642.5" r="3.0" fill="#3bff80"/><circle cx="124" cy="645.5" r="3.0" fill="#39ff83"/><circle cx="126.3" cy="646.8" r="3.0" fill="#34ff8a"/><circle cx="130.2" cy="651.6" r="3.0" fill="#2cff96"/><circle cx="131.3" cy="648" r="3.0" fill="#2bfc99"/><circle cx="131.5" cy="643.8" r="3.0" fill="#2bfc99"/><circle cx="133" cy="640.6" r="3.0" fill="#29f99c"/><circle cx="135.8" cy="639" r="3.0" fill="#27f3a2"/><circle cx="137.6" cy="635.9" r="3.0" fill="#25efa6"/><circle cx="139.4" cy="634.3" r="3.0" fill="#24ebaa"/><circle cx="138.5" cy="629.1" r="3.0" fill="#24eda8"/><circle cx="142.5" cy="626.9" r="3.0" fill="#21e5b1"/><circle cx="143.9" cy="624.7" r="3.0" fill="#1fe2b4"/><circle cx="141.5" cy="615.4" r="3.0" fill="#22e7af"/><circle cx="144.3" cy="611.3" r="3.0" fill="#1fe1b5"/><circle cx="143.5" cy="608.6" r="3.0" fill="#20e3b3"/><circle cx="146.8" cy="607" r="3.0" fill="#1ddcba"/><circle cx="145.6" cy="602.4" r="3.0" fill="#1edeb7"/><circle cx="148" cy="603.8" r="3.0" fill="#1cd9bd"/><circle cx="152.3" cy="606.2" r="3.0" fill="#18d0c6"/><circle cx="154.2" cy="609" r="3.0" fill="#16ccca"/><circle cx="155.4" cy="610.8" r="3.0" fill="#15c9cd"/><circle cx="157.4" cy="611.5" r="3.0" fill="#13c5d1"/><circle cx="159.4" cy="612.9" r="3.0" fill="#11c1d5"/><circle cx="161.7" cy="614.7" r="3.0" fill="#0fbcda"/><circle cx="164.4" cy="612.9" r="3.0" fill="#0db6e0"/><circle cx="163.5" cy="609.6" r="3.0" fill="#0eb8de"/><circle cx="164" cy="604.6" r="3.0" fill="#0db7df"/><circle cx="166.4" cy="601.9" r="3.0" fill="#0bb2e5"/><circle cx="177.3" cy="522.6" r="3.0" fill="#019bfc"/><circle cx="178.3" cy="523.1" r="3.0" fill="#0099fe"/><circle cx="181.3" cy="524.9" r="3.0" fill="#0091ff"/><circle cx="181.6" cy="525.6" r="3.0" fill="#0090ff"/><circle cx="182.7" cy="528.8" r="3.0" fill="#008eff"/><circle cx="184.6" cy="530.4" r="3.0" fill="#0088ff"/><circle cx="188.7" cy="531.9" r="3.0" fill="#007eff"/><circle cx="194" cy="533.8" r="3.0" fill="#0070ff"/><circle cx="195.5" cy="537.6" r="3.0" fill="#006cff"/><circle cx="197" cy="537.8" r="3.0" fill="#0068ff"/><circle cx="200.1" cy="543.4" r="3.0" fill="#0060ff"/><circle cx="199.7" cy="544.8" r="3.0" fill="#0061ff"/><circle cx="202.2" cy="550.7" r="3.0" fill="#005aff"/><circle cx="202.1" cy="554.1" r="3.0" fill="#005bff"/><circle cx="205.8" cy="556.2" r="3.0" fill="#0051ff"/><circle cx="206.4" cy="557.7" r="3.0" fill="#004fff"/><circle cx="207.3" cy="563.6" r="3.0" fill="#004dff"/><circle cx="209.7" cy="566" r="3.0" fill="#0047ff"/><circle cx="210.7" cy="569.8" r="3.0" fill="#0044ff"/><circle cx="212.5" cy="571.5" r="3.0" fill="#0040ff"/><circle cx="212.3" cy="576.4" r="3.0" fill="#0040ff"/><circle cx="213" cy="578.2" r="3.0" fill="#003eff"/><circle cx="217.4" cy="578.3" r="3.0" fill="#0033ff"/><circle cx="220.7" cy="574.6" r="3.0" fill="#002aff"/><circle cx="222.1" cy="578.1" r="3.0" fill="#0026ff"/><circle cx="220.4" cy="582.1" r="3.0" fill="#002bff"/><circle cx="223.4" cy="578.9" r="3.0" fill="#0023ff"/><circle cx="224.6" cy="577.4" r="3.0" fill="#0020ff"/><circle cx="227.5" cy="574.1" r="3.0" fill="#0019ff"/><circle cx="228.8" cy="574.1" r="3.0" fill="#0018fd"/><circle cx="232.1" cy="570" r="3.0" fill="#0017fa"/><circle cx="233" cy="566.4" r="3.0" fill="#0016f8"/><circle cx="233.3" cy="561.3" r="3.0" fill="#0016f8"/><circle cx="233.6" cy="561" r="3.0" fill="#0016f8"/><circle cx="236" cy="558" r="3.0" fill="#0015f5"/><circle cx="234.8" cy="553.8" r="3.0" fill="#0015f6"/><circle cx="236.7" cy="550.9" r="3.0" fill="#0014f4"/><circle cx="239.4" cy="554.3" r="3.0" fill="#0013f1"/><circle cx="241.9" cy="555.3" r="3.0" fill="#0011ee"/><circle cx="246.3" cy="559.8" r="3.0" fill="#000fe9"/><circle cx="247.3" cy="562.1" r="3.0" fill="#000fe8"/><circle cx="248.4" cy="565.6" r="3.0" fill="#000ee7"/><circle cx="248.9" cy="563.4" r="3.0" fill="#000ee7"/><circle cx="252" cy="562.6" r="3.0" fill="#000ce3"/><circle cx="252.4" cy="560.9" r="3.0" fill="#000ce3"/><circle cx="255.2" cy="558.7" r="3.0" fill="#000bdf"/><circle cx="256.1" cy="560.1" r="3.0" fill="#000ade"/><circle cx="257.4" cy="562.7" r="3.0" fill="#0009dd"/><circle cx="259.5" cy="560.9" r="3.0" fill="#0008db"/><circle cx="265.2" cy="559.7" r="3.0" fill="#0005d4"/><circle cx="268" cy="558.5" r="3.0" fill="#0004d1"/><circle cx="271.5" cy="559.4" r="3.0" fill="#0002cd"/><circle cx="274.2" cy="560.6" r="3.0" fill="#0001ca"/><circle cx="274.8" cy="558.6" r="3.0" fill="#0001c9"/><circle cx="276.1" cy="556.5" r="3.0" fill="#0100c7"/><circle cx="278.7" cy="553.6" r="3.0" fill="#0900c2"/><circle cx="280.7" cy="552.8" r="3.0" fill="#0f00bd"/><circle cx="283.3" cy="552.7" r="3.0" fill="#1700b7"/><circle cx="285.3" cy="548.3" r="3.0" fill="#1d00b3"/><circle cx="286.8" cy="547.2" r="3.0" fill="#2200af"/><circle cx="288" cy="542.2" r="3.0" fill="#2600ac"/><circle cx="291.8" cy="540" r="3.0" fill="#3100a4"/><circle cx="292.4" cy="536.9" r="3.0" fill="#3300a2"/><circle cx="294.1" cy="534.2" r="3.0" fill="#38009f"/><circle cx="295.6" cy="531.6" r="3.0" fill="#3d009b"/><circle cx="297.5" cy="536.6" r="3.0" fill="#430097"/><circle cx="298.1" cy="538.4" r="3.0" fill="#450096"/><circle cx="297.6" cy="541.7" r="3.0" fill="#430097"/><circle cx="299" cy="539.7" r="3.0" fill="#480094"/><circle cx="303.3" cy="538.3" r="3.0" fill="#55008a"/><circle cx="305.5" cy="536" r="3.0" fill="#5c0085"/><circle cx="306.8" cy="533.1" r="3.0" fill="#600082"/><circle cx="309.7" cy="533" r="3.0" fill="#69007b"/><circle cx="312.4" cy="536.3" r="3.0" fill="#710075"/><circle cx="316.8" cy="539.4" r="3.0" fill="#7f006b"/><circle cx="317.9" cy="539.3" r="3.0" fill="#820069"/><circle cx="321.6" cy="536.8" r="3.0" fill="#8d0060"/><circle cx="321.1" cy="534.3" r="3.0" fill="#8c0061"/><circle cx="325.1" cy="533.1" r="3.0" fill="#ff0200"/><circle cx="327.5" cy="533.2" r="3.0" fill="#ff0c00"/><circle cx="329.4" cy="532.3" r="3.0" fill="#ff1300"/><circle cx="332.4" cy="530.6" r="3.0" fill="#ff1e00"/><circle cx="337.4" cy="530.7" r="3.0" fill="#ff3000"/><circle cx="340.3" cy="528" r="3.0" fill="#ff3b00"/><circle cx="340.4" cy="524.1" r="3.0" fill="#ff3b00"/><circle cx="343.5" cy="522" r="3.0" fill="#ff4700"/><circle cx="344.9" cy="519.6" r="3.0" fill="#ff4c00"/><circle cx="346.7" cy="517.5" r="3.0" fill="#ff5300"/><circle cx="347.7" cy="512.1" r="3.0" fill="#ff5600"/><circle cx="348.5" cy="508.9" r="3.0" fill="#ff5900"/><circle cx="348.6" cy="506.8" r="3.0" fill="#ff5a00"/><circle cx="351.4" cy="502.7" r="3.0" fill="#ff6400"/><circle cx="351.2" cy="500.1" r="3.0" fill="#ff6400"/><circle cx="353.3" cy="497.5" r="3.0" fill="#ff6b00"/><circle cx="353.8" cy="494.9" r="3.0" fill="#ff6d00"/><circle cx="354" cy="491.6" r="3.0" fill="#ff6e00"/><circle cx="356" cy="486" r="3.0" fill="#ff7600"/><circle cx="356.8" cy="484.7" r="3.0" fill="#ff7900"/><circle cx="355.3" cy="480.8" r="3.0" fill="#ff7300"/><circle cx="357.1" cy="479.2" r="3.0" fill="#ff7b00"/><circle cx="357.1" cy="475" r="3.0" fill="#ff7a00"/><circle cx="358.9" cy="472.7" r="3.0" fill="#ff8200"/><circle cx="359.7" cy="468.6" r="3.0" fill="#ff8500"/><circle cx="359.4" cy="464.2" r="3.0" fill="#ff8400"/><circle cx="360.1" cy="462.5" r="3.0" fill="#ff8700"/><circle cx="360.4" cy="458.6" r="3.0" fill="#ff8800"/><circle cx="359.8" cy="455.6" r="3.0" fill="#ff8500"/><circle cx="362" cy="459" r="3.0" fill="#ff8c00"/><circle cx="361.2" cy="461.5" r="3.0" fill="#ff8a00"/><circle cx="360.9" cy="465" r="3.0" fill="#ff8900"/><circle cx="362.6" cy="466.4" r="3.0" fill="#ff8d00"/><circle cx="360.9" cy="469.8" r="3.0" fill="#ff8900"/><circle cx="362.8" cy="475" r="3.0" fill="#ff8d00"/><circle cx="363.3" cy="476.7" r="3.0" fill="#ff8f00"/><circle cx="364.7" cy="473" r="3.0" fill="#ff9200"/><circle cx="365.3" cy="469.6" r="3.0" fill="#ff9300"/><circle cx="364.8" cy="467.7" r="3.0" fill="#ff9200"/><circle cx="365.2" cy="468.8" r="3.0" fill="#ff9300"/><circle cx="367.2" cy="473.8" r="3.0" fill="#ff9800"/><circle cx="369" cy="476.9" r="3.0" fill="#ff9c00"/><circle cx="371.2" cy="473.7" r="3.0" fill="#ffa100"/><circle cx="373.1" cy="469.9" r="3.0" fill="#ffa600"/><circle cx="373.1" cy="468.8" r="3.0" fill="#ffa600"/><circle cx="375.8" cy="471.7" r="3.0" fill="#ffac00"/><circle cx="379.3" cy="473.2" r="3.0" fill="#ffb400"/><circle cx="382.4" cy="475.6" r="3.0" fill="#ffbc00"/><circle cx="382.3" cy="478.5" r="3.0" fill="#ffbc00"/><circle cx="384.9" cy="483.7" r="3.0" fill="#ffc200"/><circle cx="384.5" cy="487" r="3.0" fill="#ffc100"/><circle cx="388.4" cy="482.8" r="3.0" fill="#ffca00"/><circle cx="389.3" cy="478.5" r="3.0" fill="#ffcc00"/><circle cx="391.1" cy="476.3" r="3.0" fill="#ffd000"/><circle cx="393.7" cy="472.4" r="3.0" fill="#ffd600"/><circle cx="397" cy="471.6" r="3.0" fill="#ffde00"/><circle cx="397.9" cy="470.1" r="3.0" fill="#ffe100"/><circle cx="400.8" cy="466.8" r="3.0" fill="#ffe800"/><circle cx="403.1" cy="466.4" r="3.0" fill="#fceb00"/><circle cx="404.7" cy="468.4" r="3.0" fill="#f8eb00"/><circle cx="407.8" cy="471" r="3.0" fill="#f1ed00"/><circle cx="408" cy="470.5" r="3.0" fill="#f0ed00"/><circle cx="409.8" cy="467.7" r="3.0" fill="#ecee00"/><circle cx="413.7" cy="466.6" r="3.0" fill="#e3f000"/><circle cx="413.2" cy="461.1" r="3.0" fill="#e4ef00"/><circle cx="412.8" cy="458.5" r="3.0" fill="#e5ef00"/><circle cx="415.1" cy="453.3" r="3.0" fill="#e0f000"/><circle cx="416.3" cy="450.8" r="3.0" fill="#ddf100"/><circle cx="416.4" cy="449.3" r="3.0" fill="#ddf100"/><circle cx="418.2" cy="446.1" r="3.0" fill="#d9f200"/><circle cx="417.9" cy="443.6" r="3.0" fill="#d9f200"/><circle cx="417.8" cy="440.4" r="3.0" fill="#daf200"/><circle cx="418.4" cy="436.2" r="3.0" fill="#d8f200"/><circle cx="419.1" cy="431.7" r="3.0" fill="#d7f200"/><circle cx="420.1" cy="428.9" r="3.0" fill="#d4f300"/><circle cx="420.1" cy="425.2" r="3.0" fill="#d4f300"/><circle cx="421" cy="420.1" r="3.0" fill="#d2f300"/><circle cx="420.7" cy="417.3" r="3.0" fill="#d3f300"/><circle cx="422.8" cy="413.4" r="3.0" fill="#cef400"/><circle cx="424.2" cy="410.1" r="3.0" fill="#cbf500"/><circle cx="425.1" cy="405.2" r="3.0" fill="#c9f500"/><circle cx="426.2" cy="409.8" r="3.0" fill="#c6f500"/><circle cx="427.9" cy="410.9" r="3.0" fill="#c2f600"/><circle cx="426.9" cy="415" r="3.0" fill="#c4f600"/><circle cx="427.2" cy="417.4" r="3.0" fill="#c4f600"/><circle cx="429.5" cy="416.8" r="3.0" fill="#bff700"/><circle cx="428.3" cy="420.8" r="3.0" fill="#c1f600"/><circle cx="428.9" cy="421.5" r="3.0" fill="#c0f700"/><circle cx="431" cy="425.2" r="3.0" fill="#bbf800"/><circle cx="431.9" cy="421.1" r="3.0" fill="#b9f800"/><circle cx="432" cy="419.6" r="3.0" fill="#b9f800"/><circle cx="432.1" cy="414.9" r="3.0" fill="#b9f800"/><circle cx="434.9" cy="413.9" r="3.0" fill="#b2fa00"/><circle cx="438.9" cy="413" r="3.0" fill="#a9fb00"/><circle cx="440.9" cy="416.6" r="3.0" fill="#a4fc00"/><circle cx="444.1" cy="418.6" r="3.0" fill="#9dfe00"/><circle cx="444.5" cy="420.2" r="3.0" fill="#9cfe00"/><circle cx="445.5" cy="423.7" r="3.0" fill="#99ff00"/><circle cx="447.9" cy="428.7" r="3.0" fill="#94ff04"/><circle cx="449.3" cy="424.4" r="3.0" fill="#91ff09"/><circle cx="449.7" cy="421.4" r="3.0" fill="#90ff0a"/><circle cx="454.1" cy="426" r="3.0" fill="#86ff18"/><circle cx="457" cy="425.3" r="3.0" fill="#7fff22"/><circle cx="456.2" cy="431.6" r="3.0" fill="#81ff1f"/><circle cx="458.7" cy="434.6" r="3.0" fill="#7bff27"/><circle cx="459.7" cy="437.2" r="3.0" fill="#79ff2a"/><circle cx="461.3" cy="433.3" r="3.0" fill="#75ff2f"/><circle cx="462.7" cy="428.2" r="3.0" fill="#72ff34"/><circle cx="465.6" cy="433.6" r="3.0" fill="#6bff3d"/><circle cx="466.9" cy="435.1" r="3.0" fill="#68ff41"/><circle cx="471.6" cy="432.7" r="3.0" fill="#5eff50"/><circle cx="471.6" cy="428.4" r="3.0" fill="#5eff51"/><circle cx="473.9" cy="424.3" r="3.0" fill="#58ff58"/><circle cx="476.3" cy="423.3" r="3.0" fill="#53ff60"/><circle cx="479" cy="424" r="3.0" fill="#4dff68"/><circle cx="482" cy="423" r="3.0" fill="#46ff72"/><circle cx="485.2" cy="423.9" r="3.0" fill="#3eff7c"/><circle cx="489.5" cy="425.4" r="3.0" fill="#35ff8a"/><circle cx="490.8" cy="427.3" r="3.0" fill="#32ff8e"/><circle cx="495.2" cy="428.5" r="3.0" fill="#2afb9a"/><circle cx="496.5" cy="430" r="3.0" fill="#29f99c"/><circle cx="497.8" cy="434.2" r="3.0" fill="#28f69f"/><circle cx="500.5" cy="432.8" r="3.0" fill="#26f1a4"/><circle cx="503.9" cy="430.6" r="3.0" fill="#23ebab"/><circle cx="505.9" cy="433.3" r="3.0" fill="#22e7af"/><circle cx="507.1" cy="438.3" r="3.0" fill="#21e5b1"/><circle cx="506.8" cy="440.6" r="3.0" fill="#21e5b0"/><circle cx="509" cy="444.2" r="3.0" fill="#1fe1b5"/><circle cx="509.5" cy="442" r="3.0" fill="#1fe0b6"/><circle cx="512.2" cy="436.8" r="3.0" fill="#1ddbbb"/><circle cx="514.4" cy="440.2" r="3.0" fill="#1bd7bf"/><circle cx="516.2" cy="442.3" r="3.0" fill="#19d3c3"/><circle cx="518.5" cy="440.3" r="3.0" fill="#17cfc7"/><circle cx="518.8" cy="437.8" r="3.0" fill="#17cec8"/><circle cx="520.6" cy="432.6" r="3.0" fill="#16cbcb"/><circle cx="522.9" cy="437" r="3.0" fill="#14c6d0"/><circle cx="525.2" cy="438.1" r="3.0" fill="#12c2d4"/><circle cx="526.8" cy="439" r="3.0" fill="#11bfd7"/><circle cx="529.8" cy="440.3" r="3.0" fill="#0eb9dd"/><circle cx="531.6" cy="445" r="3.0" fill="#0db6e1"/><circle cx="534.5" cy="445.9" r="3.0" fill="#0ab0e6"/><circle cx="536.1" cy="449.7" r="3.0" fill="#09adea"/><circle cx="536.8" cy="453.5" r="3.0" fill="#08aceb"/><circle cx="536.8" cy="455.3" r="3.0" fill="#08aceb"/><circle cx="538.2" cy="454.3" r="3.0" fill="#07a9ee"/><circle cx="538.6" cy="451.6" r="3.0" fill="#07a8ef"/><circle cx="541.1" cy="452.3" r="3.0" fill="#04a2f4"/><circle cx="543.2" cy="454.5" r="3.0" fill="#029ef9"/><circle cx="546.5" cy="451.5" r="3.0" fill="#0096ff"/><circle cx="549.6" cy="451" r="3.0" fill="#008eff"/><circle cx="549.8" cy="448.4" r="3.0" fill="#008dff"/><circle cx="550.8" cy="444.1" r="3.0" fill="#008bff"/><circle cx="553.4" cy="447.1" r="3.0" fill="#0084ff"/><circle cx="554.2" cy="449.8" r="3.0" fill="#0081ff"/><circle cx="557.5" cy="450.2" r="3.0" fill="#0078ff"/><circle cx="560.6" cy="453" r="3.0" fill="#0070ff"/><circle cx="563.6" cy="453.2" r="3.0" fill="#0068ff"/><circle cx="567.4" cy="451.5" r="3.0" fill="#005eff"/><circle cx="571.6" cy="450.4" r="3.0" fill="#0052ff"/><circle cx="575.5" cy="454.8" r="3.0" fill="#0048ff"/><circle cx="576.3" cy="452.5" r="3.0" fill="#0046ff"/><circle cx="580.4" cy="449" r="3.0" fill="#003bff"/><circle cx="584" cy="445.6" r="3.0" fill="#0031ff"/><circle cx="585" cy="445.2" r="3.0" fill="#002eff"/><circle cx="588.2" cy="444.2" r="3.0" fill="#0026ff"/><circle cx="591.5" cy="445.8" r="3.0" fill="#001dff"/><circle cx="592.7" cy="446.4" r="3.0" fill="#0019ff"/><circle cx="594.8" cy="450.3" r="3.0" fill="#0018fd"/><circle cx="595.8" cy="451.9" r="3.0" fill="#0017fc"/><circle cx="599.9" cy="451.4" r="3.0" fill="#0015f7"/><circle cx="603" cy="452.5" r="3.0" fill="#0014f3"/><circle cx="606.3" cy="449.9" r="3.0" fill="#0012ef"/><circle cx="609.9" cy="449.1" r="3.0" fill="#0010eb"/><circle cx="612.1" cy="446.8" r="3.0" fill="#000fe9"/><circle cx="614.3" cy="445.5" r="3.0" fill="#000ee6"/><circle cx="615.3" cy="440.6" r="3.0" fill="#000de5"/><circle cx="615.3" cy="440.1" r="3.0" fill="#000de5"/><circle cx="617" cy="436.6" r="3.0" fill="#000ce3"/><circle cx="615.9" cy="432.9" r="3.0" fill="#000de4"/><circle cx="618.5" cy="436.9" r="3.0" fill="#000be1"/><circle cx="620" cy="440.2" r="3.0" fill="#000adf"/><circle cx="622.2" cy="441.8" r="3.0" fill="#0009dc"/><circle cx="622.5" cy="441.7" r="3.0" fill="#0009dc"/><circle cx="625.9" cy="438.8" r="3.0" fill="#0007d8"/><circle cx="625.3" cy="433.5" r="3.0" fill="#0008d9"/><circle cx="627.5" cy="432.1" r="3.0" fill="#0006d6"/><circle cx="631.7" cy="431.3" r="3.0" fill="#0004d1"/><circle cx="634.8" cy="431.5" r="3.0" fill="#0002cd"/><circle cx="634.9" cy="436.4" r="3.0" fill="#0002cd"/><circle cx="637.4" cy="439.2" r="3.0" fill="#0001ca"/><circle cx="639.6" cy="438.7" r="3.0" fill="#0300c6"/><circle cx="641.8" cy="438.3" r="3.0" fill="#0a00c1"/><circle cx="645.2" cy="437.6" r="3.0" fill="#1500b8"/><circle cx="645.4" cy="433" r="3.0" fill="#1600b8"/><circle cx="650.6" cy="435.6" r="3.0" fill="#2700ab"/><circle cx="653.8" cy="435.3" r="3.0" fill="#3200a3"/><circle cx="656.9" cy="434.1" r="3.0" fill="#3c009c"/><circle cx="661.8" cy="433.2" r="3.0" fill="#4d0090"/><circle cx="665.3" cy="434.5" r="3.0" fill="#590087"/><circle cx="668.3" cy="432.5" r="3.0" fill="#630080"/><circle cx="671.4" cy="431.6" r="3.0" fill="#6d0078"/><circle cx="672.6" cy="427.9" r="3.0" fill="#710075"/><circle cx="673.1" cy="426.9" r="3.0" fill="#720074"/><circle cx="674.3" cy="421.8" r="3.0" fill="#770071"/><circle cx="676.9" cy="420.8" r="3.0" fill="#7f006b"/><circle cx="678.5" cy="417.9" r="3.0" fill="#850067"/><circle cx="680.7" cy="419.4" r="3.0" fill="#8c0061"/><circle cx="681.3" cy="423.6" r="3.0" fill="#8e0060"/><circle cx="683.5" cy="421.8" r="3.0" fill="#95005a"/><circle cx="687.8" cy="422.4" r="3.0" fill="#8a0063"/><circle cx="688.6" cy="422.6" r="3.0" fill="#8a0063"/><circle cx="690.8" cy="426.4" r="3.0" fill="#8a0063"/><circle cx="694.8" cy="425.8" r="3.0" fill="#8a0063"/><circle cx="698.3" cy="425.9" r="3.0" fill="#ff5a00"/><circle cx="701.5" cy="425.8" r="3.0" fill="#ff5e00"/><circle cx="704.1" cy="424.9" r="3.0" fill="#ff6100"/><circle cx="706.4" cy="425.1" r="3.0" fill="#ff6400"/><circle cx="708.2" cy="424.1" r="3.0" fill="#ff6600"/><circle cx="712.9" cy="424.4" r="3.0" fill="#ff6b00"/><circle cx="714.1" cy="421.4" r="3.0" fill="#ff6d00"/><circle cx="717.8" cy="420" r="3.0" fill="#ff7100"/><circle cx="721.1" cy="418.8" r="3.0" fill="#ff7700"/><circle cx="723.9" cy="418" r="3.0" fill="#ff7d00"/><circle cx="728.8" cy="416.6" r="3.0" fill="#ff8800"/><circle cx="731.5" cy="413.5" r="3.0" fill="#ff8e00"/><circle cx="732.4" cy="410.8" r="3.0" fill="#ff9000"/><circle cx="734.8" cy="413.2" r="3.0" fill="#ff9600"/><circle cx="733.3" cy="417.9" r="3.0" fill="#ff9200"/><circle cx="736.8" cy="415.4" r="3.0" fill="#ff9a00"/><circle cx="740.1" cy="413.1" r="3.0" fill="#ffa200"/><circle cx="741.9" cy="408.6" r="3.0" fill="#ffa600"/><circle cx="743.9" cy="409.2" r="3.0" fill="#ffaa00"/><circle cx="745.3" cy="405.1" r="3.0" fill="#ffae00"/><circle cx="749.6" cy="406" r="3.0" fill="#ffb800"/><circle cx="749.7" cy="407.8" r="3.0" fill="#ffb800"/><circle cx="751.6" cy="410.8" r="3.0" fill="#ffbd00"/><circle cx="754.7" cy="411.8" r="3.0" fill="#ffc500"/><circle cx="755.7" cy="411.2" r="3.0" fill="#ffc800"/><circle cx="758.7" cy="409" r="3.0" fill="#ffd000"/><circle cx="760.5" cy="405.5" r="3.0" fill="#ffd600"/><circle cx="763.8" cy="403.9" r="3.0" fill="#ffdf00"/><circle cx="764.3" cy="400.9" r="3.0" fill="#ffe000"/><circle cx="766.7" cy="398.8" r="3.0" fill="#ffe700"/><circle cx="768.5" cy="394.9" r="3.0" fill="#feea00"/><circle cx="769.5" cy="392.7" r="3.0" fill="#fbeb00"/><circle cx="770.9" cy="390.2" r="3.0" fill="#f8eb00"/><circle cx="772.2" cy="387.5" r="3.0" fill="#f5ec00"/><circle cx="775.1" cy="384.7" r="3.0" fill="#eeed00"/><circle cx="776.7" cy="383" r="3.0" fill="#ebee00"/><circle cx="780.8" cy="383.9" r="3.0" fill="#e1f000"/><circle cx="781.6" cy="385.6" r="3.0" fill="#e0f000"/><circle cx="784.2" cy="390.8" r="3.0" fill="#daf200"/><circle cx="785.1" cy="390.6" r="3.0" fill="#d8f200"/><circle cx="785.2" cy="389.3" r="3.0" fill="#d8f200"/><circle cx="785.9" cy="388.9" r="3.0" fill="#d6f200"/><circle cx="785.8" cy="384.6" r="3.0" fill="#d6f200"/><circle cx="786.5" cy="383.6" r="3.0" fill="#d5f300"/><circle cx="789.3" cy="379.1" r="3.0" fill="#cef400"/><circle cx="788.5" cy="377.1" r="3.0" fill="#d0f300"/><circle cx="790.9" cy="375.6" r="3.0" fill="#cbf500"/><circle cx="790.6" cy="370" r="3.0" fill="#ccf400"/><circle cx="793.7" cy="368.2" r="3.0" fill="#c5f600"/><circle cx="796.5" cy="367.7" r="3.0" fill="#c0f700"/><circle cx="798.9" cy="369.4" r="3.0" fill="#bbf800"/><circle cx="799.2" cy="372.8" r="3.0" fill="#baf800"/><circle cx="800.6" cy="377.5" r="3.0" fill="#b7f800"/><circle cx="802.3" cy="374.1" r="3.0" fill="#b4f900"/><circle cx="804.9" cy="371" r="3.0" fill="#affa00"/><circle cx="804.8" cy="369.5" r="3.0" fill="#affa00"/><circle cx="807.8" cy="365" r="3.0" fill="#a9fb00"/><circle cx="808.1" cy="364.2" r="3.0" fill="#a8fc00"/><circle cx="810.5" cy="359.3" r="3.0" fill="#a3fc00"/><circle cx="811.8" cy="359.1" r="3.0" fill="#a1fd00"/><circle cx="816.3" cy="354.8" r="3.0" fill="#98ff00"/><circle cx="817.7" cy="352.6" r="3.0" fill="#95ff03"/><circle cx="819.2" cy="351.4" r="3.0" fill="#92ff08"/><circle cx="821" cy="345.5" r="3.0" fill="#8eff0d"/><circle cx="820.1" cy="342.7" r="3.0" fill="#90ff0a"/><circle cx="821.9" cy="340.2" r="3.0" fill="#8cff0f"/><circle cx="823.6" cy="336.1" r="3.0" fill="#89ff14"/><circle cx="823.1" cy="332.7" r="3.0" fill="#8aff13"/><circle cx="824.4" cy="331" r="3.0" fill="#87ff17"/><circle cx="826.8" cy="329.8" r="3.0" fill="#82ff1e"/><circle cx="827.2" cy="329.3" r="3.0" fill="#81ff1f"/><circle cx="827.1" cy="330.9" r="3.0" fill="#81ff1e"/><circle cx="827.7" cy="334.7" r="3.0" fill="#80ff20"/><circle cx="828.2" cy="337.9" r="3.0" fill="#80ff21"/><circle cx="832" cy="335.8" r="3.0" fill="#79ff29"/><circle cx="831.6" cy="331.9" r="3.0" fill="#7aff29"/><circle cx="834.3" cy="334.5" r="3.0" fill="#76ff2f"/><circle cx="834.8" cy="339" r="3.0" fill="#75ff30"/><circle cx="837.1" cy="342.6" r="3.0" fill="#71ff35"/><circle cx="837.7" cy="344.7" r="3.0" fill="#70ff36"/><circle cx="838.4" cy="348" r="3.0" fill="#6fff38"/><circle cx="839.6" cy="350" r="3.0" fill="#6dff3a"/><circle cx="840.2" cy="353.4" r="3.0" fill="#6cff3c"/><circle cx="840.3" cy="357.4" r="3.0" fill="#6cff3c"/><circle cx="840.2" cy="355.4" r="3.0" fill="#6cff3c"/><circle cx="841.4" cy="350.7" r="3.0" fill="#6aff3f"/><circle cx="841.7" cy="347.7" r="3.0" fill="#6aff3f"/><circle cx="843.6" cy="346" r="3.0" fill="#67ff43"/><circle cx="844.1" cy="342.9" r="3.0" fill="#66ff45"/><circle cx="845.6" cy="343" r="3.0" fill="#64ff48"/><circle cx="848.7" cy="345.9" r="3.0" fill="#5fff4f"/><circle cx="851.3" cy="348.1" r="3.0" fill="#5bff55"/><circle cx="850.8" cy="350.5" r="3.0" fill="#5bff54"/><circle cx="854.2" cy="353.2" r="3.0" fill="#56ff5b"/><circle cx="855.5" cy="357.2" r="3.0" fill="#54ff5e"/><circle cx="856.2" cy="356.2" r="3.0" fill="#53ff60"/><circle cx="860.4" cy="351" r="3.0" fill="#4cff69"/><circle cx="862.1" cy="348.6" r="3.0" fill="#49ff6d"/><circle cx="863.6" cy="346.7" r="3.0" fill="#47ff70"/><circle cx="865.9" cy="348.2" r="3.0" fill="#43ff75"/><circle cx="868.6" cy="351.4" r="3.0" fill="#3fff7c"/><circle cx="870.8" cy="352" r="3.0" fill="#3bff80"/><circle cx="874.2" cy="354.6" r="3.0" fill="#36ff88"/><circle cx="876.9" cy="357.5" r="3.0" fill="#32ff8e"/><circle cx="878.4" cy="358.9" r="3.0" fill="#2fff92"/><circle cx="880.8" cy="360.3" r="3.0" fill="#2cfe97"/><circle cx="881.2" cy="357.1" r="3.0" fill="#2bfd98"/><circle cx="884.8" cy="355.8" r="3.0" fill="#28f79f"/><circle cx="885.7" cy="351.6" r="3.0" fill="#28f5a0"/><circle cx="889.1" cy="355.4" r="3.0" fill="#25eea7"/><circle cx="889" cy="357.5" r="3.0" fill="#25efa7"/><circle cx="890.9" cy="360.4" r="3.0" fill="#23ebab"/><circle cx="894.3" cy="357" r="3.0" fill="#21e4b1"/><circle cx="898.3" cy="355" r="3.0" fill="#1dddb9"/><circle cx="899.9" cy="357.3" r="3.0" fill="#1cdabc"/><circle cx="903.3" cy="359.4" r="3.0" fill="#19d3c3"/><circle cx="905.5" cy="358.1" r="3.0" fill="#17cfc7"/><circle cx="908.8" cy="357.4" r="3.0" fill="#15c8ce"/><circle cx="912" cy="359.9" r="3.0" fill="#12c2d4"/><circle cx="916.8" cy="360.4" r="3.0" fill="#0eb9de"/><circle cx="917.3" cy="362.7" r="3.0" fill="#0db7df"/><circle cx="917.1" cy="364.7" r="3.0" fill="#0eb8de"/><circle cx="919.4" cy="368.6" r="3.0" fill="#0cb3e3"/><circle cx="920.6" cy="371.3" r="3.0" fill="#0ab1e6"/><circle cx="923.4" cy="376.2" r="3.0" fill="#08aaec"/><circle cx="926" cy="379.2" r="3.0" fill="#05a5f2"/><circle cx="927" cy="377" r="3.0" fill="#05a3f4"/><circle cx="931.5" cy="373.6" r="3.0" fill="#0099fe"/><circle cx="933" cy="374.8" r="3.0" fill="#0095ff"/><circle cx="935.4" cy="376.9" r="3.0" fill="#008fff"/><circle cx="940.5" cy="377.8" r="3.0" fill="#0081ff"/><circle cx="943.5" cy="376.7" r="3.0" fill="#0076ff"/><circle cx="945.9" cy="374.9" r="3.0" fill="#006eff"/><circle cx="950.8" cy="371.7" r="3.0" fill="#005dff"/><circle cx="953.1" cy="371" r="3.0" fill="#0056ff"/><circle cx="954.8" cy="369.1" r="3.0" fill="#0050ff"/><circle cx="954.7" cy="366.6" r="3.0" fill="#0050ff"/><circle cx="958.9" cy="363.8" r="3.0" fill="#0042ff"/><circle cx="962.4" cy="364.1" r="3.0" fill="#0036ff"/><circle cx="963.8" cy="360.1" r="3.0" fill="#0031ff"/><circle cx="966.1" cy="355.3" r="3.0" fill="#0029ff"/><circle cx="967" cy="352.2" r="3.0" fill="#0026ff"/><circle cx="968.7" cy="352.5" r="3.0" fill="#0021ff"/><circle cx="971.4" cy="352.5" r="3.0" fill="#0019fe"/><circle cx="972.5" cy="354.4" r="3.0" fill="#0018fd"/><circle cx="974" cy="351.5" r="3.0" fill="#0017fa"/><circle cx="974.9" cy="347.4" r="3.0" fill="#0016f9"/><circle cx="977.5" cy="343" r="3.0" fill="#0015f5"/><circle cx="977.8" cy="339.5" r="3.0" fill="#0014f5"/><circle cx="978.1" cy="337.4" r="3.0" fill="#0014f4"/><circle cx="984" cy="341.5" r="3.0" fill="#0010ec"/><circle cx="984.4" cy="343.6" r="3.0" fill="#0010eb"/><circle cx="985.6" cy="349.2" r="3.0" fill="#000fe9"/><circle cx="986.6" cy="346.2" r="3.0" fill="#000ee8"/><circle cx="989.3" cy="341.9" r="3.0" fill="#000de4"/><circle cx="989.4" cy="340.8" r="3.0" fill="#000de4"/><circle cx="991.8" cy="343.5" r="3.0" fill="#000be0"/><circle cx="995.4" cy="345.8" r="3.0" fill="#0009db"/><circle cx="998.6" cy="345.2" r="3.0" fill="#0006d6"/><circle cx="1002.1" cy="344.6" r="3.0" fill="#0004d2"/><circle cx="1003.1" cy="347.4" r="3.0" fill="#0004d1"/><circle cx="1004" cy="351.5" r="3.0" fill="#0003d0"/><circle cx="1008.1" cy="354.2" r="3.0" fill="#0002cb"/><circle cx="1010.2" cy="354.8" r="3.0" fill="#0001c9"/><circle cx="1011.9" cy="352" r="3.0" fill="#0100c7"/><circle cx="1013.5" cy="348.4" r="3.0" fill="#0500c4"/><circle cx="1015.7" cy="352.1" r="3.0" fill="#0c00c0"/><circle cx="1019.5" cy="354.5" r="3.0" fill="#1600b8"/><circle cx="1019.2" cy="355.3" r="3.0" fill="#1500b8"/><circle cx="1020.5" cy="358.9" r="3.0" fill="#1900b6"/><circle cx="1023.3" cy="358.1" r="3.0" fill="#2100b0"/><circle cx="1026" cy="359.8" r="3.0" fill="#2800aa"/><circle cx="1027.8" cy="355.4" r="3.0" fill="#2d00a7"/><circle cx="1030.9" cy="356.4" r="3.0" fill="#3600a1"/><circle cx="1032.4" cy="353.7" r="3.0" fill="#3a009e"/><circle cx="1033.9" cy="351.1" r="3.0" fill="#3e009a"/><circle cx="1035" cy="348.7" r="3.0" fill="#410098"/><circle cx="1035.2" cy="348.2" r="3.0" fill="#420098"/><circle cx="1038.7" cy="346.4" r="3.0" fill="#4b0091"/><circle cx="1040" cy="345.7" r="3.0" fill="#4f008e"/><circle cx="1044.2" cy="346.4" r="3.0" fill="#5b0085"/><circle cx="1046.6" cy="349" r="3.0" fill="#610081"/><circle cx="1047.7" cy="350" r="3.0" fill="#64007e"/><circle cx="1050.7" cy="354.9" r="3.0" fill="#6d0078"/><circle cx="1050" cy="357.7" r="3.0" fill="#6b007a"/><circle cx="1049.4" cy="360.7" r="3.0" fill="#69007b"/><circle cx="1048.9" cy="363.6" r="3.0" fill="#68007c"/><circle cx="1049.8" cy="367.3" r="3.0" fill="#6a007a"/><circle cx="1049.4" cy="367.7" r="3.0" fill="#69007b"/><circle cx="1049.8" cy="363.2" r="3.0" fill="#6a007a"/><circle cx="1052.4" cy="357.7" r="3.0" fill="#710075"/><circle cx="1053.5" cy="356.6" r="3.0" fill="#740073"/><circle cx="1056.6" cy="353.7" r="3.0" fill="#7d006c"/><circle cx="1060.2" cy="355.3" r="3.0" fill="#870065"/><circle cx="1061" cy="352.9" r="3.0" fill="#890063"/><circle cx="1062.3" cy="349.9" r="3.0" fill="#8d0061"/><circle cx="1061.7" cy="350.6" r="3.0" fill="#8b0062"/><circle cx="1064.1" cy="347.6" r="3.0" fill="#92005d"/><circle cx="1069.5" cy="348.7" r="3.0" fill="#ff0900"/><circle cx="1072" cy="345.9" r="3.0" fill="#ff0e00"/><circle cx="1075.8" cy="349" r="3.0" fill="#ff1700"/><circle cx="1081.5" cy="347.4" r="3.0" fill="#ff2400"/><circle cx="1084" cy="348.1" r="3.0" fill="#ff2900"/><circle cx="1085.6" cy="347.8" r="3.0" fill="#ff2d00"/><circle cx="1087.6" cy="347" r="3.0" fill="#ff3100"/><circle cx="1086.8" cy="342.5" r="3.0" fill="#ff3000"/><circle cx="1089.2" cy="342.9" r="3.0" fill="#ff3500"/><circle cx="1091.2" cy="339.9" r="3.0" fill="#ff3900"/><circle cx="1095.4" cy="341.1" r="3.0" fill="#ff4300"/><circle cx="1098.2" cy="343.3" r="3.0" fill="#ff4900"/><circle cx="1099.7" cy="342.9" r="3.0" fill="#ff4c00"/><circle cx="1101.5" cy="347.4" r="3.0" fill="#ff5100"/><circle cx="1103.8" cy="343.7" r="3.0" fill="#ff5600"/><circle cx="1106.1" cy="343.5" r="3.0" fill="#ff5b00"/><circle cx="1109.2" cy="339.9" r="3.0" fill="#ff6200"/><circle cx="1109.8" cy="336.9" r="3.0" fill="#ff6300"/><circle cx="1112.9" cy="335.4" r="3.0" fill="#ff6a00"/><circle cx="1115" cy="331.7" r="3.0" fill="#ff6f00"/><circle cx="1119.2" cy="328.1" r="3.0" fill="#ff7900"/><circle cx="1119.9" cy="326.7" r="3.0" fill="#ff7b00"/><circle cx="1124.1" cy="327.3" r="3.0" fill="#ff8500"/><circle cx="1123.7" cy="324.4" r="3.0" fill="#ff8400"/><circle cx="1124.5" cy="322.6" r="3.0" fill="#ff8600"/><circle cx="1126.6" cy="318.3" r="3.0" fill="#ff8c00"/><circle cx="1128.2" cy="313.2" r="3.0" fill="#ff9000"/><circle cx="1129.7" cy="310.5" r="3.0" fill="#ff9300"/><circle cx="1130.1" cy="308.7" r="3.0" fill="#ff9400"/><circle cx="1131" cy="308.9" r="3.0" fill="#ff9700"/><circle cx="1134.2" cy="310.7" r="3.0" fill="#ff9e00"/><circle cx="1134.4" cy="314.1" r="3.0" fill="#ff9f00"/><circle cx="1135.6" cy="317.6" r="3.0" fill="#ffa200"/><circle cx="1139.1" cy="311.5" r="3.0" fill="#ffab00"/><circle cx="1139.2" cy="310.4" r="3.0" fill="#ffab00"/><circle cx="1139.9" cy="307.2" r="3.0" fill="#ffad00"/><circle cx="1141.2" cy="301" r="3.0" fill="#ffb000"/><circle cx="1142.2" cy="298.7" r="3.0" fill="#ffb300"/><circle cx="1144.1" cy="301.1" r="3.0" fill="#ffb700"/><circle cx="1147.6" cy="303" r="3.0" fill="#ffc000"/><circle cx="1147.9" cy="300.2" r="3.0" fill="#ffc000"/><circle cx="1149.3" cy="295.4" r="3.0" fill="#ffc400"/><circle cx="1152.4" cy="297.1" r="3.0" fill="#ffcc00"/><circle cx="1154.3" cy="299.9" r="3.0" fill="#ffd100"/><circle cx="1155.8" cy="296.8" r="3.0" fill="#ffd400"/><circle cx="1157.2" cy="295.2" r="3.0" fill="#ffd800"/><circle cx="1160.1" cy="297.2" r="3.0" fill="#ffdf00"/><circle cx="1160.6" cy="298.2" r="3.0" fill="#ffe000"/><circle cx="1164.4" cy="297.5" r="3.0" fill="#ffea00"/><circle cx="1165.3" cy="298.8" r="3.0" fill="#fdea00"/><circle cx="1165.8" cy="304.1" r="3.0" fill="#fceb00"/><circle cx="1166" cy="307.7" r="3.0" fill="#fceb00"/><circle cx="1165.2" cy="308.5" r="3.0" fill="#feea00"/><circle cx="1167.1" cy="311.5" r="3.0" fill="#faeb00"/><circle cx="1170.6" cy="313.3" r="3.0" fill="#f2ed00"/><circle cx="1173.1" cy="315.4" r="3.0" fill="#edee00"/><circle cx="1175.5" cy="316.7" r="3.0" fill="#e8ef00"/><circle cx="1178.7" cy="314.1" r="3.0" fill="#e1f000"/><circle cx="1181.2" cy="311.7" r="3.0" fill="#dcf100"/><circle cx="1181.4" cy="314.3" r="3.0" fill="#dcf100"/><circle cx="1183" cy="316.7" r="3.0" fill="#d8f200"/><circle cx="1185.5" cy="314.2" r="3.0" fill="#d3f300"/><circle cx="1185.5" cy="311.2" r="3.0" fill="#d3f300"/><circle cx="1186" cy="308.7" r="3.0" fill="#d2f300"/><circle cx="1188.6" cy="305.5" r="3.0" fill="#ccf400"/><circle cx="1191" cy="305.5" r="3.0" fill="#c7f500"/><circle cx="1195.1" cy="302.9" r="3.0" fill="#bff700"/><circle cx="1195.5" cy="298.8" r="3.0" fill="#bef700"/><circle cx="1197.8" cy="301.4" r="3.0" fill="#b9f800"/><circle cx="1201" cy="304" r="3.0" fill="#b2f900"/><circle cx="1201.4" cy="309.5" r="3.0" fill="#b2fa00"/><circle cx="1205.6" cy="304.7" r="3.0" fill="#a9fb00"/><circle cx="1204.6" cy="302.8" r="3.0" fill="#abfb00"/><circle cx="1204" cy="297.4" r="3.0" fill="#acfb00"/><circle cx="1208.2" cy="294.7" r="3.0" fill="#a3fc00"/><circle cx="1208.8" cy="292.8" r="3.0" fill="#a2fd00"/><circle cx="1211.8" cy="291.5" r="3.0" fill="#9cfe00"/><circle cx="1213.6" cy="294" r="3.0" fill="#98ff00"/><circle cx="1217.9" cy="295.5" r="3.0" fill="#8fff0c"/><circle cx="1218.9" cy="296.4" r="3.0" fill="#8dff0f"/><circle cx="1222.6" cy="298.3" r="3.0" fill="#85ff1a"/><circle cx="1225.2" cy="302.4" r="3.0" fill="#7fff22"/><circle cx="1227.8" cy="303.4" r="3.0" fill="#79ff2a"/><circle cx="1232.4" cy="307.2" r="3.0" fill="#6fff37"/><circle cx="1231.5" cy="308.8" r="3.0" fill="#71ff35"/><circle cx="1234.6" cy="310" r="3.0" fill="#6bff3e"/><circle cx="1236.9" cy="311" r="3.0" fill="#66ff45"/><circle cx="1241.4" cy="309.6" r="3.0" fill="#5cff53"/><circle cx="1245.7" cy="309.2" r="3.0" fill="#53ff60"/><circle cx="1248.6" cy="310.4" r="3.0" fill="#4cff69"/><circle cx="1251.2" cy="308.1" r="3.0" fill="#47ff71"/><circle cx="1253.4" cy="304.6" r="3.0" fill="#42ff77"/><circle cx="1255.4" cy="306.1" r="3.0" fill="#3eff7d"/><circle cx="1257.4" cy="305.8" r="3.0" fill="#39ff83"/><circle cx="1259.7" cy="307.4" r="3.0" fill="#34ff8a"/><circle cx="1262" cy="308.1" r="3.0" fill="#2fff91"/><circle cx="1264.3" cy="313.1" r="3.0" fill="#2bfd98"/><circle cx="1264.4" cy="315.8" r="3.0" fill="#2bfd98"/><circle cx="1267.4" cy="314.8" r="3.0" fill="#29f79e"/><circle cx="1272.4" cy="315.2" r="3.0" fill="#24eda9"/><circle cx="1271.6" cy="317.9" r="3.0" fill="#25eea7"/><circle cx="1271.7" cy="322.5" r="3.0" fill="#25eea7"/><circle cx="1272.6" cy="328.5" r="3.0" fill="#24eca9"/><circle cx="1277.2" cy="326.9" r="3.0" fill="#20e3b3"/><circle cx="1279.9" cy="327.1" r="3.0" fill="#1dddb9"/><circle cx="1284.2" cy="325.7" r="3.0" fill="#1ad4c2"/><circle cx="1286.5" cy="324.7" r="3.0" fill="#18cfc7"/><circle cx="1289.7" cy="320.4" r="3.0" fill="#15c9cd"/><circle cx="1290.2" cy="324.1" r="3.0" fill="#14c7cf"/><circle cx="1291.7" cy="328.3" r="3.0" fill="#13c4d2"/><circle cx="1295" cy="326.9" r="3.0" fill="#10bed9"/><circle cx="1298.2" cy="323.6" r="3.0" fill="#0db7df"/><circle cx="1300.4" cy="326.3" r="3.0" fill="#0bb2e4"/><circle cx="1302.1" cy="328.1" r="3.0" fill="#0aafe8"/><circle cx="1306.7" cy="326.7" r="3.0" fill="#06a5f2"/><circle cx="1309.1" cy="326.9" r="3.0" fill="#04a0f7"/><circle cx="1312.8" cy="324.9" r="3.0" fill="#0098ff"/><circle cx="1313.8" cy="329" r="3.0" fill="#0096ff"/><circle cx="1314.4" cy="333.9" r="3.0" fill="#0095ff"/><circle cx="1317.1" cy="331.4" r="3.0" fill="#008eff"/><circle cx="1321.6" cy="332" r="3.0" fill="#0082ff"/><circle cx="1325.6" cy="331.5" r="3.0" fill="#0078ff"/><circle cx="1330.5" cy="331.5" r="3.0" fill="#006bff"/><circle cx="1330" cy="327.7" r="3.0" fill="#006cff"/><circle cx="1330.9" cy="322.5" r="3.0" fill="#006aff"/><circle cx="1334" cy="323.4" r="3.0" fill="#0062ff"/><circle cx="1339.1" cy="322.9" r="3.0" fill="#0055ff"/><circle cx="1344.3" cy="322.3" r="3.0" fill="#0048ff"/><circle cx="1345.1" cy="326.3" r="3.0" fill="#0046ff"/><circle cx="1345.6" cy="327.7" r="3.0" fill="#0045ff"/><circle cx="1347.4" cy="325.4" r="3.0" fill="#0040ff"/><circle cx="1348.6" cy="320" r="3.0" fill="#003dff"/><circle cx="1348.6" cy="316.4" r="3.0" fill="#003dff"/><circle cx="1351.8" cy="316.3" r="3.0" fill="#0034ff"/><circle cx="1354.6" cy="315.2" r="3.0" fill="#002dff"/><circle cx="1358.4" cy="316.7" r="3.0" fill="#0024ff"/><circle cx="1361.4" cy="316.6" r="3.0" fill="#001cff"/><circle cx="1364.8" cy="318.7" r="3.0" fill="#0018fc"/><circle cx="1367.9" cy="320.3" r="3.0" fill="#0016f9"/><circle cx="1371.7" cy="319.5" r="3.0" fill="#0014f5"/><circle cx="1373.6" cy="318" r="3.0" fill="#0013f3"/><circle cx="1374.7" cy="315.9" r="3.0" fill="#0013f1"/><circle cx="1378.7" cy="315.3" r="3.0" fill="#0011ed"/><circle cx="1381.3" cy="313.1" r="3.0" fill="#0010ea"/><circle cx="1384.7" cy="315.2" r="3.0" fill="#000ee6"/><circle cx="1388.1" cy="316.4" r="3.0" fill="#000ce3"/><circle cx="1390.1" cy="318.7" r="3.0" fill="#000be0"/><circle cx="1393.6" cy="320.7" r="3.0" fill="#0009dc"/><circle cx="1397.1" cy="320" r="3.0" fill="#0008d9"/><circle cx="1399.5" cy="319.6" r="3.0" fill="#0006d6"/><circle cx="1404.9" cy="319.7" r="3.0" fill="#0004d0"/><circle cx="1406.4" cy="319.3" r="3.0" fill="#0003ce"/><circle cx="1406.7" cy="315.6" r="3.0" fill="#0003ce"/><circle cx="1408.3" cy="314" r="3.0" fill="#0002cc"/><circle cx="1409.7" cy="311.9" r="3.0" fill="#0001cb"/><circle cx="1413.4" cy="311.8" r="3.0" fill="#0400c5"/><circle cx="1414.6" cy="310.5" r="3.0" fill="#0800c2"/><circle cx="1416.2" cy="309" r="3.0" fill="#0d00bf"/><circle cx="1417.9" cy="308.3" r="3.0" fill="#1200bb"/><circle cx="1421.6" cy="304.7" r="3.0" fill="#1d00b3"/><circle cx="1424.8" cy="303.6" r="3.0" fill="#2700ac"/><circle cx="1426" cy="305.1" r="3.0" fill="#2a00a9"/><circle cx="1429.6" cy="305.2" r="3.0" fill="#3500a1"/><circle cx="110" cy="677" r="2.6" fill="#58ff58"/><circle cx="113.5" cy="671.5" r="2.6" fill="#51ff63"/><circle cx="166.3" cy="597.9" r="2.6" fill="#0bb2e4"/><circle cx="166.5" cy="591.3" r="2.6" fill="#0bb2e5"/><circle cx="166.8" cy="584.6" r="2.6" fill="#0bb1e5"/><circle cx="167" cy="578" r="2.6" fill="#0bb1e6"/><circle cx="168.2" cy="570" r="2.6" fill="#0aaee8"/><circle cx="169.3" cy="562" r="2.6" fill="#09aceb"/><circle cx="170.5" cy="555" r="2.6" fill="#07a9ed"/><circle cx="171.7" cy="548" r="2.6" fill="#06a7f0"/><circle cx="174.1" cy="541.8" r="2.6" fill="#04a2f5"/><circle cx="175.6" cy="535.2" r="2.6" fill="#039ff8"/><circle cx="177.1" cy="528.7" r="2.6" fill="#019bfc"/><circle cx="176.5" cy="521.5" r="2.6" fill="#029dfa"/><circle cx="178.3" cy="512" r="2.6" fill="#0099fe"/><circle cx="194.1" cy="547.7" r="2.6" fill="#0070ff"/><circle cx="429" cy="431.9" r="2.6" fill="#c0f700"/><circle cx="362.4" cy="487.8" r="2.6" fill="#ff8c00"/>
</g>
<line x1="324.5" y1="218" x2="324.5" y2="712.5" stroke="#999" stroke-width="1" stroke-dasharray="3 3" stroke-dashoffset="2"/><line x1="683.5" y1="218" x2="683.5" y2="712.5" stroke="#999" stroke-width="1" stroke-dasharray="3 3" stroke-dashoffset="2"/><line x1="1065.5" y1="218" x2="1065.5" y2="712.5" stroke="#999" stroke-width="1" stroke-dasharray="3 3" stroke-dashoffset="2"/><line x1="1461.5" y1="218" x2="1461.5" y2="712.5" stroke="#999" stroke-width="1" stroke-dasharray="3 3" stroke-dashoffset="2"/><line x1="1858.5" y1="218" x2="1858.5" y2="712.5" stroke="#999" stroke-width="1" stroke-dasharray="3 3" stroke-dashoffset="2"/>
<path d="M197.3 559 L225.4 544 L240 539.4 L255.3 533.7 L270.6 528 L282.1 521.3 L293.5 518.4 L308.8 516.9 L325.1 515.5 L350.9 501.2 L383.4 484.9 L400 474.9 L424.5 459.5 L430.1 460.8 L448.4 461.8 L475.3 458.8 L502.2 454.5 L518.3 449.7 L534.4 446.5 L555.9 442.7 L600 436.2 L605.8 435.3 L642.6 434.9 L684 432.9 L721.4 415.2 L747.7 396.8 L783.2 372.5 L833.8 372.4 L892.9 371.8 L919.8 368.9 L930.5 366.5 L963.4 365.6 L993.5 364.3 L1030.3 365.6 L1063.8 364.3 L1067.1 363.5 L1090 351.4 L1099.1 347.9 L1124.9 332.6 L1152.7 313.5 L1165.1 303.4 L1171.8 303.4 L1180.4 301 L1194.7 301.8 L1209.1 301.8 L1215.8 302.8 L1230 302 L1271.9 302.5 L1279.2 303.6 L1329.5 302 L1387.1 301.8 L1432.3 301.3 L1461.5 300.1 L1499.4 282.6 L1541.2 255.8 L1560.9 240.7 L1858.5 239" fill="none" stroke="#7f0000" stroke-width="2" stroke-linejoin="round"/>
<rect x="94.85" y="192.3" width="1.3" height="521.85" fill="#000"/>
<rect x="94.85" y="712.85" width="1763.8" height="1.3" fill="#000"/>
<g font-family="Liberation Sans, sans-serif" font-size="13" fill="#2a2a2a">
<text x="92.3" y="222.1" text-anchor="end">$1m</text><text x="92.3" y="286.5" text-anchor="end">$100k</text><text x="92.3" y="351" text-anchor="end">$10k</text><text x="92.3" y="415.4" text-anchor="end">$1k</text><text x="92.3" y="479.9" text-anchor="end">$100</text><text x="92.3" y="608.8" text-anchor="end">$1</text>
<text x="234.2" y="728" text-anchor="middle">2012</text><text x="433.1" y="728" text-anchor="middle">2014</text><text x="632" y="728" text-anchor="middle">2016</text><text x="830.9" y="728" text-anchor="middle">2018</text><text x="1029.8" y="728" text-anchor="middle">2020</text><text x="1228.7" y="728" text-anchor="middle">2022</text><text x="1427.6" y="728" text-anchor="middle">2024</text><text x="1626.5" y="728" text-anchor="middle">2026</text><text x="1825.4" y="728" text-anchor="middle">2028</text>
</g>
<text transform="translate(58.3,454.3) rotate(-90)" text-anchor="middle" font-family="Liberation Sans, sans-serif" font-size="14.5" fill="#333" textLength="119" lengthAdjust="spacingAndGlyphs">BTC Price (USD)</text>
<g font-family="Liberation Sans, sans-serif" font-size="13.5" fill="#3a3a3a">
<circle cx="292.1" cy="780.1" r="3" fill="#5ef53a"/>
<text x="312.6" y="785">BTC Price</text>
<rect x="384" y="779.1" width="30" height="2" fill="#7f0000"/>
<text x="419.2" y="785" textLength="177" lengthAdjust="spacingAndGlyphs">Stock/Flow (365d average)</text>
<rect x="606.6" y="779.1" width="30" height="2" fill="#ef2b2b"/>
<text x="642" y="785" textLength="97.5" lengthAdjust="spacingAndGlyphs">Model Variance</text>
<line x1="751" y1="780.1" x2="778" y2="780.1" stroke="#aaa" stroke-width="1.2" stroke-dasharray="3 3"/>
<text x="785.5" y="785" textLength="90" lengthAdjust="spacingAndGlyphs">Halving Dates</text>
</g>
</svg>
<div class="copy">© 2023 Look Into Bitcoin.</div>
</body></html>
